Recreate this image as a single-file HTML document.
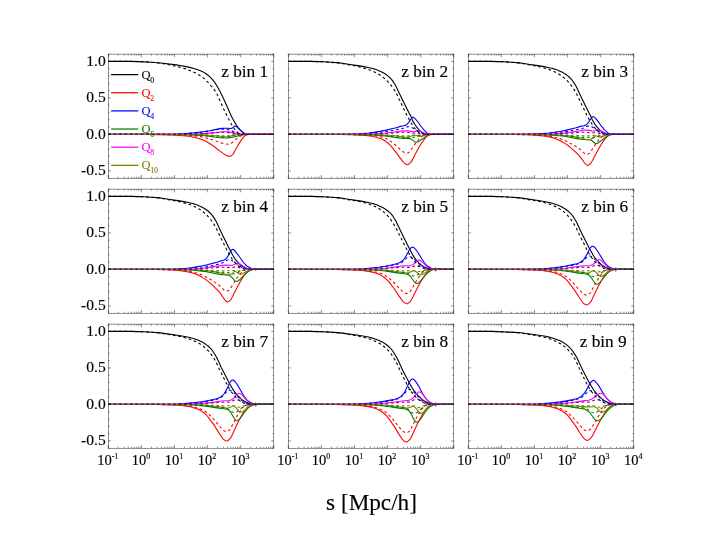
<!DOCTYPE html>
<html><head><meta charset="utf-8"><title>Q multipoles</title>
<style>html,body{margin:0;padding:0;background:#fff;}svg{display:block;will-change:transform;}</style></head>
<body>
<svg width="720" height="540" viewBox="0 0 720 540">
<rect width="720" height="540" fill="#fff"/>
<g font-family="'Liberation Serif', serif"><path d="M111.1 74.60H138.3" stroke="#000" stroke-width="1.25" fill="none"/><text x="141.4" y="78.50" font-size="12.5" fill="#000" stroke="#000" stroke-width="0.1">Q<tspan font-size="7.9" dy="4.1" dx="-0.3">0</tspan></text><path d="M111.1 92.75H138.3" stroke="#ff0000" stroke-width="1.25" fill="none"/><text x="141.4" y="96.65" font-size="12.5" fill="#ff0000" stroke="#ff0000" stroke-width="0.1">Q<tspan font-size="7.9" dy="4.1" dx="-0.3">2</tspan></text><path d="M111.1 110.90H138.3" stroke="#0000ff" stroke-width="1.25" fill="none"/><text x="141.4" y="114.80" font-size="12.5" fill="#0000ff" stroke="#0000ff" stroke-width="0.1">Q<tspan font-size="7.9" dy="4.1" dx="-0.3">4</tspan></text><path d="M111.1 129.05H138.3" stroke="#008000" stroke-width="1.25" fill="none"/><text x="141.4" y="132.95" font-size="12.5" fill="#008000" stroke="#008000" stroke-width="0.1">Q<tspan font-size="7.9" dy="4.1" dx="-0.3">6</tspan></text><path d="M111.1 147.20H138.3" stroke="#ff00ff" stroke-width="1.25" fill="none"/><text x="141.4" y="151.10" font-size="12.5" fill="#ff00ff" stroke="#ff00ff" stroke-width="0.1">Q<tspan font-size="7.9" dy="4.1" dx="-0.3">8</tspan></text><path d="M111.1 165.35H138.3" stroke="#808000" stroke-width="1.25" fill="none"/><text x="141.4" y="169.25" font-size="12.5" fill="#808000" stroke="#808000" stroke-width="0.1">Q<tspan font-size="7.9" dy="4.1" dx="-0.3">10</tspan></text></g>
<g fill="none" stroke-width="1.10" stroke-linejoin="round">
<path stroke="#000" d="M108.3 61.4L130.7 61.4L138.9 61.6L151.1 62.2L160.6 63L176.4 64.9L180.2 65.5L184.8 66.4L189.8 67.4L193.9 68.5L197.8 69.7L201.1 71L203.1 71.9L205.2 73.2L207.4 74.8L209.6 76.6L210.9 77.8L212.3 79.4L213.9 81.3L215.4 83.4L216.5 85.2L218 87.7L220.1 91.6L221.8 95.1L224.5 100.7L230.5 114.2L232.5 118.4L234 121.1L236 124.5L237.9 127.3L239.7 129.4L242 131.7L243.2 132.7L244.9 133.6L246.3 134.1L247.7 134.4L273.8 134.4"/>
<path stroke="#ff0000" d="M108.3 134.4L145.7 134.5L157.5 134.6L169.3 134.9L175.8 135.2L183.5 135.8L188.3 136.3L192.9 137L196.1 137.7L199.3 138.7L203 140L205.2 141L208.4 142.8L213.7 146.3L220.3 151.4L224.9 154.6L226 155.2L227 155.6L228.7 156.1L230.1 156.3L230.8 156.1L231.4 155.7L232.3 154.9L232.9 154.3L233.7 152.9L238.1 145.1L240.6 141.1L242.2 138.8L244 136.7L244.9 135.8L246 135.2L247.2 134.7L249 134.4L273.8 134.4"/>
<path stroke="#0000ff" d="M108.3 134.4L161.5 134.3L176.2 134.1L185.5 133.6L193.8 132.9L203.2 131.8L209.4 130.8L216.3 129.4L220.1 128.6L221.6 128.4L224.4 128.2L227.6 128.2L230.3 128.5L231.2 128.4L231.8 128.3L232.2 128.1L234.2 126.4L234.6 126.1L235.1 126L235.4 126.1L236 126.4L237.6 127.6L241 130.9L242.4 132L244.9 133.7L245.7 134.1L246.4 134.3L247.9 134.4L273.8 134.4"/>
<path stroke="#008000" d="M108.3 134.4L164.6 134.4L177.9 134.5L186.2 134.7L195.6 135.1L202.3 135.5L207.2 136L219.8 137.7L223.5 137.9L226.7 138L228.3 137.9L232.2 137.2L235.4 136.6L238.9 135.7L242.8 134.9L246.2 134.4L249.5 134.4"/>
<path stroke="#ff00ff" d="M108.3 134.4L170.2 134.4L189.8 134.2L196.2 134L203.5 133.6L212.3 132.9L223.4 131.8L225.9 131.7L227.7 131.8L230.5 132.1L237.4 133.5L241.5 134.1L245.6 134.4L249.5 134.4"/>
<path stroke="#808000" d="M108.3 134.4L176 134.4L194.8 134.6L204.2 134.9L208.9 135.2L214.8 135.7L225.4 136.8L227.5 137L228.5 136.8L229.8 136.5L231.1 136L232.8 135.1L233.4 135L242.6 134.4L249.5 134.4"/>
<path stroke="#ff0000" stroke-dasharray="2.7 2.7" d="M108.3 134.4L144.6 134.4L168.1 134.6L182.3 135L191.7 135.6L198 136.3L201.6 136.9L203.8 137.4L207 138.2L212.3 139.8L219 142.1L223.6 143.5L225.7 143.9L228.8 144.3L229.4 144.1L230.2 143.9L231 143.6L231.5 143.2L236.5 138.9L238.2 137.6L239.9 136.4L242.1 135.2L243.9 134.7L244.9 134.5L246.3 134.4L273.8 134.4"/>
<path stroke="#0000ff" stroke-dasharray="2.7 2.7" d="M108.3 134.4L155.4 134.4L172.1 134.2L178.3 134L188 133.4L196.3 132.7L200.6 132.2L204.6 131.7L213.4 130.3L218.4 129.4L220.4 129.2L224.8 129.1L226.9 129.4L230 130.1L231.3 130.6L234.4 131.9L237.9 133.2L239.6 133.7L243.2 134.3L244.7 134.4L273.8 134.4"/>
<path stroke="#808000" stroke-dasharray="2.7 2.7" d="M108.3 134.4L173 134.4L189.2 134.5L202.4 134.9L224.8 135.9L227.6 135.8L230.9 135.6L233.4 135.3L236.3 134.9L239 134.5L240.8 134.4L273.8 134.4"/>
<path stroke="#000" stroke-dasharray="2.7 2.7" d="M108.3 61.4L130.7 61.4L138.9 61.6L143.9 61.8L149.8 62.1L157 62.8L160.6 63.3L163.5 63.8L173.9 65.8L178.7 66.9L182.4 67.9L185.8 68.9L188.8 70.1L192.3 71.5L195.6 73.1L198.4 74.6L201.2 76.4L203.5 78.1L205.5 79.8L207.7 82L211.7 86.5L213.9 89.2L215.7 91.8L216.9 93.9L223.3 108.3L229.8 121.4L231.2 123.8L234.6 129.1L236.6 131.6L238.2 133L239 133.6L239.7 133.9L241 134.3L241.9 134.4L273.8 134.4"/>
<path stroke="#008000" stroke-dasharray="2.7 2.7" d="M108.3 134.4L162.1 134.4L183.8 134.7L193 135L199.8 135.3L204.5 135.7L217.2 137.1L220.8 137.3L224 137.4L225.7 137.2L228.6 136.8L235 135.4L237.3 135L239.8 134.7L242.7 134.5L244.7 134.4L273.8 134.4"/>
<path stroke="#800080" stroke-dasharray="2.7 2.7" d="M108.3 134.4L167.8 134.4L187.3 134.2L200.9 133.7L209.7 133.2L220.7 132.3L223.3 132.2L225.1 132.3L228 132.6L232 133.2L236.4 133.9L239.5 134.2L242.5 134.4L273.8 134.4"/>
</g>
<g fill="none" stroke-width="1.10" stroke-linejoin="round">
<path stroke="#000" d="M288.3 61.4L310.7 61.4L318.6 61.6L323.6 61.8L331.3 62.2L339.8 62.9L342.5 63.3L348.3 64.2L357.9 65.6L362.7 66.4L368.2 67.5L371.5 68.2L374.1 68.9L376.7 69.8L379.3 70.9L381.8 72L383.7 73.1L385.7 74.3L387.6 75.7L389.3 77.1L390.7 78.5L391.9 79.9L393.3 81.9L395.2 84.8L396.3 86.9L402.2 99.2L408.8 112.5L410.8 116.3L412.3 119.9L413.4 122.1L414.9 124.5L416.4 126.6L418.6 129.3L420.1 130.9L421.9 132.2L423.6 133.1L426 134L428.3 134.4L453.8 134.4"/>
<path stroke="#ff0000" d="M288.3 134.4L338.8 134.5L352.8 134.8L360.9 135.1L365.2 135.4L371.9 136.3L376.1 137.2L379.5 138.2L382.2 139.3L385.3 141L386.8 142.1L387.9 143L389.1 144.1L390.6 145.6L394.9 150.8L396.3 152.7L400 157.9L403.5 162.3L404.3 163.1L405 163.7L406.4 164.4L407.5 164.7L408.3 164.4L409.2 163.8L410.4 162.7L411.1 161.9L412.3 159.9L417.7 149.5L420.5 144.8L422.5 141.8L423.9 139.8L426 137.2L427.2 136.1L428.4 135.4L429.5 134.9L430.7 134.6L432.1 134.4L453.8 134.4"/>
<path stroke="#0000ff" d="M288.3 134.4L333.5 134.4L350.3 134.1L356.2 134L360.8 133.7L368.6 133L373.5 132.4L379.9 131.4L385.1 130.4L396.1 127.7L400.5 126.4L403.8 125.8L405.1 125.4L406.4 124.8L407.3 123.9L408.7 122.4L411.5 118.3L412.4 117.5L412.8 117.3L413.1 117.3L413.5 117.4L414.1 117.7L415.5 119.1L417.9 122L421 126.3L422.4 128L423.9 129.8L425.3 131.2L427 133.2L427.7 133.7L428.4 134.2L429 134.3L429.6 134.4L453.8 134.4"/>
<path stroke="#008000" d="M288.3 134.4L350.1 134.5L364.3 134.7L376.3 135.2L381.2 135.6L386.1 136L400.3 138.1L409.7 138.6L410.4 138.8L411.3 139.2L412.3 139.9L414.9 141.9L415.5 142.2L416.2 142.3L416.7 142.2L417.7 141.9L419.8 140.8L425.2 137L426.9 135.5L427.9 134.8L428.4 134.6L429.1 134.4L431.2 134.4"/>
<path stroke="#ff00ff" d="M288.3 134.4L350.2 134.4L369.8 134.1L376.2 133.8L383.5 133.3L392.3 132.3L403.4 130.9L405.9 130.8L407.7 130.9L412.2 131.6L413.3 131.7L414.5 131.6L417.1 130.8L418.2 130.8L419.3 131.1L420.3 131.4L424.1 133.1L426.8 134.1L428.4 134.4L431.2 134.4"/>
<path stroke="#808000" d="M288.3 134.4L356 134.4L374.8 134.6L384.2 135L388.9 135.3L394.8 135.8L405.4 137.2L407.5 137.3L408.5 137.2L409.7 136.8L411 136.3L412.5 135.4L413.3 135.1L414.3 135.1L415.3 135.3L416.4 135.5L418.7 136.3L419.9 136.4L421.9 136.1L427.4 134.5L428.8 134.4L431.2 134.4"/>
<path stroke="#ff0000" stroke-dasharray="2.7 2.7" d="M288.3 134.4L340.6 134.5L353.3 134.6L362.4 134.8L366 135L372.8 135.5L376.7 136L380.3 136.7L382.7 137.4L385.7 138.5L388.4 139.7L390.9 141.4L395 144.6L399.8 149L403.2 151.8L403.9 152.3L404.7 152.6L405.9 153L406.9 153.2L407.6 153L408.3 152.7L409.3 152L409.9 151.5L410.9 150.2L415.4 143.6L418.3 140L419.9 138.1L421.9 136.2L422.8 135.6L424 135L425.3 134.6L427.1 134.4L453.8 134.4"/>
<path stroke="#0000ff" stroke-dasharray="2.7 2.7" d="M288.3 134.4L330 134.4L342.7 134.3L355.1 134.1L366.4 133.5L372.9 133L380.3 132.2L384.8 131.6L393.3 130.3L397.9 129.4L401.7 128.8L403.4 128.3L406.7 127.1L407.8 126.8L408.9 126.7L410.2 126.9L411.5 127.4L418.2 131.3L420 132.3L422.6 133.3L424.6 134L425.8 134.2L427.5 134.4L453.8 134.4"/>
<path stroke="#808000" stroke-dasharray="2.7 2.7" d="M288.3 134.4L353 134.4L369.2 134.5L382.4 134.9L404.8 135.9L409.9 135.7L415.4 135.3L418.3 135.2L426.5 134.4L453.8 134.4"/>
<path stroke="#000" stroke-dasharray="2.7 2.7" d="M288.3 61.4L310.7 61.4L318.9 61.6L323.9 61.8L330 62.2L337.7 62.9L342.6 63.6L348.1 64.7L355.4 66L359.9 67L363.4 67.9L366.7 68.9L369.7 70L373.1 71.4L376 72.8L378.7 74.2L381.3 75.9L383.5 77.6L385.5 79.3L387.6 81.4L390.5 84.7L392.6 87.4L394.8 90.6L396.6 93.8L403.4 108.2L408.6 118.6L409.9 121L411.8 124L414.5 128L416.5 130.3L418.2 131.8L419.6 132.7L421.6 133.6L424.3 134.1L426.9 134.3L428.6 134.4L453.8 134.4"/>
<path stroke="#008000" stroke-dasharray="2.7 2.7" d="M288.3 134.4L342.1 134.4L363.8 134.7L373 135L379.8 135.3L384.5 135.7L397.2 137.1L404.2 137.4L407.9 137.1L412.2 137.3L413.5 137.2L415.6 136.7L420.9 135.2L423.6 134.6L425.3 134.5L427.4 134.4L453.8 134.4"/>
<path stroke="#800080" stroke-dasharray="2.7 2.7" d="M288.3 134.4L347.8 134.4L367.3 134.2L380.9 133.7L389.7 133.2L400.7 132.3L403.3 132.2L405.9 132.4L411.4 133L416.5 133.2L422.7 134.1L426 134.4L453.8 134.4"/>
</g>
<g fill="none" stroke-width="1.10" stroke-linejoin="round">
<path stroke="#000" d="M468.3 61.4L490.7 61.4L498.6 61.6L503.6 61.8L511.3 62.2L519.8 62.9L522.5 63.3L528.3 64.2L537.9 65.6L542.7 66.4L548.2 67.5L551.5 68.2L554.1 68.9L556.7 69.8L559.3 70.9L561.8 72L563.7 73.1L565.6 74.3L567.5 75.6L569.1 77L570.6 78.4L571.9 79.9L573.2 81.7L575.1 84.6L576.2 86.6L582.1 99L588.8 112.5L590.8 116.3L592.2 119.4L593.3 121.6L594.7 123.9L596.4 126.1L598.8 129L600.5 130.6L602.5 132L604.3 133L607 133.9L609.4 134.3L610.4 134.4L633.8 134.4"/>
<path stroke="#ff0000" d="M468.3 134.4L515.1 134.5L526.8 134.8L535.5 135.2L540.6 135.6L545.6 136.3L551.3 137.4L553.4 138L555.6 138.8L558.1 139.8L559.9 140.6L562 141.7L564.3 143.1L566.3 144.4L568.3 145.8L570.5 147.6L573 149.8L575.7 152.2L577.6 154.1L579.3 155.8L580.6 157.4L583.7 161.8L585.5 164L586 164.6L586.5 164.9L587.1 165.3L587.7 165.4L588.6 165.1L589.4 164.5L590.7 163.4L591.3 162.6L592.5 160.5L598.1 149.8L600.7 145.2L602.7 142.1L604.1 140.1L606.2 137.5L606.9 136.8L607.5 136.2L608.9 135.4L610 134.9L611.3 134.6L612.5 134.4L633.8 134.4"/>
<path stroke="#0000ff" d="M468.3 134.4L513.9 134.4L531.7 134.1L536.9 133.9L542 133.6L549.2 133L554.4 132.3L561 131.2L565.4 130.4L576.1 127.7L580.5 126.4L583.8 125.8L585.1 125.4L586.4 124.7L587.3 123.8L588.7 122.1L591.5 117.8L592.4 116.9L592.8 116.7L593.1 116.6L593.5 116.7L594.2 117.1L595 117.8L596 118.9L598.2 121.6L601.8 126.7L604.5 129.8L605.7 130.9L607.1 132.1L608.5 133.3L609.7 134.1L610.4 134.3L611.2 134.4L633.8 134.4"/>
<path stroke="#008000" d="M468.3 134.4L529.1 134.5L543.7 134.7L555 135.4L560.3 135.8L565.8 136.5L578.2 138.9L580.5 139.3L586.7 139.8L589 139.7L590 139.8L590.9 140.1L592 140.7L595.1 143.2L595.7 143.5L596.3 143.6L596.7 143.5L597.5 143.2L599.4 142.1L604.8 137.7L608.9 135L609.6 134.7L610.4 134.5L612.8 134.4"/>
<path stroke="#ff00ff" d="M468.3 134.4L530.1 134.4L549.5 134.1L556.2 133.7L563.7 133.1L572.1 132L584.6 130.1L585.9 130L587 130.1L592 130.9L593.2 131L594.4 130.9L596.8 130.1L597.9 129.9L598.8 130L600.1 130.5L605.1 133.1L606.1 133.5L607.7 133.9L608.6 134.2L609.6 134.3L612.8 134.4"/>
<path stroke="#808000" d="M468.3 134.4L537.7 134.4L546.6 134.6L556.3 134.9L565.8 135.5L570.6 136.1L576.4 137.1L583.7 138.8L587 139.6L588.1 139.8L589.1 139.9L589.6 139.8L590.1 139.6L591.2 139L592.6 138L594.2 136.3L594.9 135.9L595.4 135.9L596.2 136L599 137L600.3 137.1L601.9 136.7L605.3 135.5L608.5 134.6L610.2 134.4L612.8 134.4"/>
<path stroke="#ff0000" stroke-dasharray="2.7 2.7" d="M468.3 134.4L514.4 134.5L526.2 134.7L534.9 134.9L539.9 135.1L545 135.6L550.6 136.4L554.9 137.2L559.2 138.4L563.6 140L567.6 141.8L572.5 144.4L577.1 147.2L580 149.3L583 152.1L584.8 153.6L585.6 154L586.9 154.5L587.5 154.3L588.2 154L589.3 153.2L589.9 152.7L590.9 151.4L595.6 144.1L598.4 140.4L600.1 138.4L602.1 136.4L603 135.7L604.2 135.1L605.6 134.7L607.4 134.4L633.8 134.4"/>
<path stroke="#0000ff" stroke-dasharray="2.7 2.7" d="M468.3 134.4L510.2 134.4L523.9 134.3L535.6 134.1L547.5 133.4L553.8 132.9L560.8 132.2L565.3 131.6L573.9 130.2L581.7 128.7L583.5 128.1L585.9 126.9L587 126.4L588.1 126.1L589.2 126L590.3 126.2L591.8 126.8L598.6 131.2L601.3 132.5L603.6 133.4L606.9 134.2L608 134.3L609.2 134.4L633.8 134.4"/>
<path stroke="#808000" stroke-dasharray="2.7 2.7" d="M468.3 134.4L533 134.4L549.2 134.5L562.4 134.9L584.8 135.9L589.9 135.7L595.2 135.3L598.5 135.3L606 134.5L607.7 134.4L633.8 134.4"/>
<path stroke="#000" stroke-dasharray="2.7 2.7" d="M468.3 61.4L490.7 61.4L498.9 61.6L503.8 61.8L510 62.2L518 62.9L522.3 63.5L528.1 64.7L535.9 66L540.5 67L544 67.9L547.2 68.9L550.1 69.9L553.5 71.3L556.2 72.6L558.8 74L561.3 75.7L563.4 77.2L565.4 79L567.6 81.2L569.9 83.9L571.9 86.4L574.3 89.9L576.5 93.7L583.5 108.3L588.2 117.7L590 121L592 124L594.4 127.3L596.5 129.7L598.3 131.3L599.8 132.3L601.8 133.2L604.7 134L607.4 134.3L608.6 134.4L633.8 134.4"/>
<path stroke="#008000" stroke-dasharray="2.7 2.7" d="M468.3 134.4L522.7 134.4L538.6 134.6L545.1 134.7L553.4 135L559.8 135.3L564.5 135.7L577.5 137.1L584.2 137.4L587.9 137.3L589.4 137.4L592.1 137.9L593 137.9L594 137.8L595.5 137.4L600 135.7L602 135.1L603.8 134.7L605.8 134.5L608.8 134.4L633.8 134.4"/>
<path stroke="#800080" stroke-dasharray="2.7 2.7" d="M468.3 134.4L527.8 134.4L547.3 134.2L560.9 133.7L569.7 133.2L580.7 132.3L583.3 132.2L585.4 132.3L591.1 132.8L595.1 132.7L596.5 132.8L598.4 133.1L603.3 134L607.2 134.4L633.8 134.4"/>
</g>
<g fill="none" stroke-width="1.10" stroke-linejoin="round">
<path stroke="#000" d="M108.3 196.4L130.7 196.4L138.6 196.6L143.6 196.8L151.3 197.2L159.8 197.9L162.5 198.3L168.3 199.2L177.9 200.6L182.7 201.4L188.2 202.5L191.5 203.2L194.1 203.9L196.7 204.8L199.3 205.9L201.6 207L203.6 208L205.6 209.3L207.4 210.5L209.1 212L210.6 213.4L211.8 214.8L213 216.4L215.1 219.6L216.2 221.6L222.5 234.9L229 247.9L233.2 256L234.6 258.3L236.4 260.6L239 263.5L240.9 265.3L241.8 266L243 266.8L245.2 268L248 268.8L250.6 269.3L252 269.4L273.8 269.4"/>
<path stroke="#ff0000" d="M108.3 269.4L155 269.5L166.8 269.8L175.6 270.2L180.5 270.6L185.6 271.4L189.4 272.2L191.2 272.6L193.3 273.2L195.6 274.1L198 275.1L199.8 275.9L201.9 277.1L204.3 278.6L206.2 279.9L208.2 281.4L210.4 283.3L213 285.7L215.5 288.1L217.5 290.1L220.4 293.4L223.6 298.2L225.4 300.5L226.2 301.3L226.9 301.7L227.5 301.9L228.3 301.5L229.3 300.9L230.5 299.8L231.3 298.8L232.4 296.8L238.1 285.6L240.8 280.7L242.8 277.5L244.3 275.3L246.4 272.6L247.1 271.9L247.8 271.3L249.1 270.5L250.2 270L251.4 269.6L252.8 269.4L273.8 269.4"/>
<path stroke="#0000ff" d="M108.3 269.4L154.5 269.4L164.1 269.2L174.6 269L179.8 268.7L186.3 268.2L191.3 267.7L196.3 266.9L202.6 265.8L207.2 264.8L216.3 262.4L220.3 261.1L223.2 260.3L224.2 260L225.4 259.2L226.5 258.1L227.7 256.4L230.1 252.2L231 250.8L232 249.7L232.4 249.4L232.9 249.4L233.3 249.5L234.1 250L234.9 250.8L235.7 251.8L238.1 254.8L242 260.5L243.9 262.9L245.3 264.5L246.3 265.5L247.2 266.2L249.6 267.5L251.7 268.9L252.7 269.3L253.8 269.4L273.8 269.4"/>
<path stroke="#008000" d="M108.3 269.4L161.6 269.4L171.2 269.5L185.2 269.8L191.9 270.2L197.8 270.6L202.2 271.1L206.3 271.7L219.8 274.4L226 275L228.2 275.3L229.1 275.5L230.2 276L231.2 276.7L232.1 277.6L234.1 280L235 280.9L235.7 281.4L236.4 281.5L236.9 281.4L237.8 281L239.6 279.7L240.9 278.5L244.9 274.3L246.8 272.7L248.4 271.6L251.1 270.1L252 269.7L253.1 269.4L254.5 269.4L255.7 268.7L256.9 269.4L273.8 269.4"/>
<path stroke="#ff00ff" d="M108.3 269.4L170.9 269.4L183.5 269.2L191.6 269L198.4 268.6L204.2 268L212.2 266.9L224.5 265.1L226.5 265L230 265.4L232 265.3L232.9 265.1L233.6 264.8L236.4 263.4L237.1 263.2L237.6 263.1L238.6 263.3L239.9 263.9L241.1 264.6L245.1 267.4L246.3 268.1L247.5 268.5L249 268.9L251 269.3L252.4 269.4L254.5 269.4L255.7 270.2L256.8 269.4L256.9 269.4"/>
<path stroke="#808000" d="M108.3 269.4L177.7 269.4L186.6 269.6L196.3 269.9L205.8 270.5L210.6 271.1L216.4 272.1L223.7 273.8L227 274.6L228.1 274.8L229.1 274.9L230 274.7L231 274.2L232.6 273.1L234.1 271.7L234.7 271.3L235.3 271.4L236.1 271.7L238.5 273.5L239.3 273.9L240 274.2L240.7 274.2L241.6 274L242.5 273.7L247.3 271L248.6 270.4L250.5 269.8L251.5 269.6L252.6 269.4L256.9 269.4"/>
<path stroke="#ff0000" stroke-dasharray="2.7 2.7" d="M108.3 269.4L154.1 269.5L166 269.7L174.8 270L179.6 270.2L184.8 270.8L190.3 271.6L194.6 272.5L198.8 273.8L203.2 275.5L205.2 276.4L207.2 277.5L211.9 280.3L216.5 283.3L219.5 285.6L222.6 288.7L224.4 290.3L225.3 290.9L226 291.2L226.6 291.3L227.2 291.1L228 290.7L229.1 289.9L229.7 289.3L230.7 288L235.5 280.2L238.3 276.4L240.3 273.9L242.4 271.7L243.3 270.9L244.6 270.2L246.1 269.7L248.1 269.4L273.8 269.4"/>
<path stroke="#0000ff" stroke-dasharray="2.7 2.7" d="M108.3 269.4L151 269.4L167.3 269.2L177.7 269L185.6 268.6L190.1 268.3L196.3 267.7L202.1 267L213.3 265.3L215.8 264.8L220.1 263.8L221.5 263.3L223.3 262.5L225.8 260.9L227 260.2L228.2 259.7L229.4 259.6L230.1 259.6L230.7 259.8L232.2 260.6L235.2 262.7L238.7 265.4L241 266.9L243.1 267.9L245 268.5L249.1 269.2L251.1 269.4L273.8 269.4"/>
<path stroke="#808000" stroke-dasharray="2.7 2.7" d="M108.3 269.4L173 269.4L189.2 269.5L202.4 269.9L224.8 270.9L233.2 270.6L235.1 270.6L237.5 270.9L238.7 270.9L240.8 270.6L245.8 269.7L249.4 269.4L273.8 269.4"/>
<path stroke="#000" stroke-dasharray="2.7 2.7" d="M108.3 196.4L130.7 196.4L138.9 196.6L143.9 196.8L150.2 197.2L158.3 197.9L162 198.4L168.2 199.7L176.3 201L180.9 202L184.4 202.9L187.5 203.8L190.4 204.8L193.8 206.2L196.3 207.4L198.9 208.9L201.3 210.4L203.4 212L205.4 213.8L207.6 216L209.5 218.2L211.4 220.5L213.8 224.1L216.3 228.4L219.8 235.8L226 248.2L228.6 253.1L230 255.7L231.9 258.5L234.2 261.6L236.4 264L238.3 265.7L240.1 267L242.1 268L244.9 268.9L247.7 269.3L248.6 269.4L273.8 269.4"/>
<path stroke="#008000" stroke-dasharray="2.7 2.7" d="M108.3 269.4L166 269.4L180.7 269.6L191.2 269.9L196.9 270.2L203.1 270.6L217.8 272.1L227 272.5L228.7 272.9L232 273.8L233.2 274L234.4 273.8L236.1 273.3L240.5 271.2L242.6 270.4L244.2 269.9L246 269.7L248.4 269.5L250.6 269.4L273.8 269.4"/>
<path stroke="#800080" stroke-dasharray="2.7 2.7" d="M108.3 269.4L167.7 269.4L187.2 269.2L193.8 269.1L201.1 268.7L221.8 267.2L224.3 267.2L229.4 267.6L230.8 267.7L231.9 267.6L234.7 267.1L236 267L237.1 267.1L238.4 267.4L243.9 268.8L245.8 269.1L248 269.3L251.2 269.4L273.8 269.4"/>
</g>
<g fill="none" stroke-width="1.10" stroke-linejoin="round">
<path stroke="#000" d="M288.3 196.4L310.7 196.4L318.6 196.6L323.6 196.8L331.3 197.2L339.8 197.9L342.5 198.3L348.3 199.2L357.9 200.6L362.7 201.4L368.2 202.5L371.5 203.2L374.1 203.9L376.7 204.8L379.3 205.9L381.6 207L383.6 208L385.5 209.2L387.3 210.5L388.9 211.8L390.5 213.2L391.7 214.6L392.9 216.2L395 219.5L396.1 221.4L402.7 235.3L409.2 248.3L413 255.4L414.4 257.6L416.3 260L418.7 262.7L421.1 265L422.1 265.8L423.1 266.4L424.5 267.2L425.7 267.8L428.3 268.6L430.7 269.2L433.2 269.4L453.8 269.4"/>
<path stroke="#ff0000" d="M288.3 269.4L335.6 269.5L343.8 269.6L352.2 269.9L358.8 270.2L363.9 270.7L370.1 271.6L372.4 272.1L374.6 272.7L377.9 273.8L380.6 275.1L382.3 276.1L384 277.2L385.4 278.3L386.5 279.3L387.8 280.6L389.3 282.3L393.7 288L395.2 290.2L399.1 296.1L402.7 301.1L403.6 302.1L404.4 302.6L405.8 303.4L406.9 303.8L407.8 303.4L408.8 302.8L410.1 301.6L410.9 300.6L412.1 298.5L418.1 286.5L420.9 281.4L423 278L424.6 275.8L426.9 272.8L428.2 271.5L429.6 270.6L430.9 270L432.2 269.6L433.6 269.4L453.8 269.4"/>
<path stroke="#0000ff" d="M288.3 269.4L335.1 269.4L356.2 269L362.9 268.7L371.4 268L378.4 267.2L385.1 266.2L391.2 265L396.5 263.8L397.9 263.3L399.2 262.8L400.3 262.2L401.4 261.5L402.4 260.8L403.2 260.1L404 259.1L404.8 258L406.2 255.7L408.9 250.7L410.2 248.7L410.9 248L411.4 247.5L412 247.2L412.5 247.1L413.2 247.3L414.1 247.9L415 248.7L416.1 250L418.2 253L422.4 259.8L424.2 262.5L425.7 264.3L426.8 265.4L427.9 266.2L432 268.7L433.2 269.2L434.4 269.4L453.8 269.4"/>
<path stroke="#008000" d="M288.3 269.4L343.1 269.4L361.2 269.6L367.5 269.8L375.2 270.2L380 270.5L385.2 271L388 271.4L399 273.1L404.9 273.8L406.2 274L407.7 274.5L409 275.2L410.2 276.2L411.4 277.7L413.9 281.2L414.7 282.3L415.7 283.2L416.2 283.4L416.6 283.5L417.3 283.4L418.2 283L419 282.4L419.9 281.6L421.5 279.9L425.6 274.9L426.7 273.7L427.8 272.8L429.1 271.8L432.1 269.9L433.2 269.5L434.5 269.4L435.6 268L435.7 268L436.8 269.4L436.9 269.4L453.8 269.4"/>
<path stroke="#ff00ff" d="M288.3 269.4L357 269.3L370.4 269.1L381.3 268.5L385.1 268.2L391.6 267.4L403.9 265.8L406 265.7L409.1 265.8L410.5 265.6L411.9 265.1L413 264.5L414.1 263.6L416.2 261.5L417.1 260.8L417.9 260.2L418.8 260.1L419.4 260.1L420 260.3L421.4 261.2L422.7 262.4L426.3 266.2L427.7 267.2L429 268L430.9 268.8L431.8 269.1L433.1 269.3L434.5 269.4L435.6 270.9L435.7 270.9L436.8 269.4L436.9 269.4"/>
<path stroke="#808000" d="M288.3 269.4L356 269.4L374.8 269.7L384.3 270.1L389 270.5L394.9 271.2L405.4 272.9L407.3 273.1L408.2 273L409.2 272.6L411 271.8L412.6 270.7L413.3 270.6L414.3 270.8L415.4 271.3L416.6 272.2L419.4 274.5L420.1 274.9L420.9 275L421.9 274.8L423 274.3L424.1 273.6L427.3 271.3L428.4 270.7L429.5 270.2L431.2 269.7L432.4 269.5L436.9 269.4"/>
<path stroke="#ff0000" stroke-dasharray="2.7 2.7" d="M288.3 269.4L335.6 269.5L352.1 269.8L358.8 270L363.8 270.3L370.1 271L374.6 271.7L378 272.5L380.8 273.4L384.1 274.9L385.5 275.7L386.6 276.4L389.4 278.5L393.8 282.5L399.1 288.1L402.8 291.7L403.6 292.3L404.4 292.7L405.8 293.3L406.9 293.6L407.6 293.4L408.5 292.9L409.6 292.1L410.2 291.3L411.2 289.9L416.2 281.3L418.9 277.2L421 274.4L423 272.1L424.1 271.1L425.2 270.4L426.1 270L427 269.7L429.1 269.4L453.8 269.4"/>
<path stroke="#0000ff" stroke-dasharray="2.7 2.7" d="M288.3 269.4L332.2 269.4L352.5 269.2L358.4 269L366.3 268.5L371.3 268.2L376.8 267.6L383.4 266.8L393.2 265.3L395.5 264.8L398.1 264L400.1 263.3L401.5 262.5L403.2 261.3L405.9 258.7L407.1 257.7L408.5 256.9L409.1 256.8L409.7 256.7L410.3 256.8L411.1 257.1L412 257.6L412.9 258.2L415.3 260.3L419.3 264.1L422.1 266.3L424.1 267.5L426.3 268.3L430.1 269.2L432 269.4L453.8 269.4"/>
<path stroke="#808000" stroke-dasharray="2.7 2.7" d="M288.3 269.4L353.3 269.4L371.1 269.6L382.7 269.9L403.9 270.9L406.2 270.9L412.9 270.6L414.7 270.8L417.4 271.5L418.6 271.6L419.6 271.5L420.8 271.3L425.9 269.9L427.3 269.6L429.2 269.5L431.8 269.4L453.8 269.4"/>
<path stroke="#000" stroke-dasharray="2.7 2.7" d="M288.3 196.4L310.7 196.4L318.8 196.6L323.7 196.8L330.1 197.2L338.4 197.9L341.7 198.3L347.9 199.6L356 200.9L361.2 201.9L364.8 202.8L367.9 203.7L370.6 204.7L374 206.1L376.5 207.2L378.8 208.5L381.2 210.1L383.3 211.7L385.3 213.4L387.4 215.5L389.1 217.6L391 219.9L393.3 223.4L396.2 228.3L399.8 235.8L406.6 249.1L410 255.4L411.9 258.2L414 260.9L416.2 263.2L418.4 265.2L420.9 266.9L423.1 268.1L425.2 268.9L427.8 269.3L428.6 269.4L453.8 269.4"/>
<path stroke="#008000" stroke-dasharray="2.7 2.7" d="M288.3 269.4L349.4 269.5L363 269.6L375.6 270.1L383.6 270.6L396.1 272L402.5 272.4L405.6 272.8L406.7 273L407.7 273.3L409 273.9L412.2 275.6L413.1 275.9L414 276L414.6 276L415.4 275.8L417.1 275.1L418.3 274.4L421.9 271.9L423.8 270.9L425.6 270.3L427.5 269.8L429.7 269.5L431.7 269.4L453.8 269.4"/>
<path stroke="#800080" stroke-dasharray="2.7 2.7" d="M288.3 269.4L348.8 269.4L369.8 269.2L381.8 268.7L401.8 267.2L403.7 267.2L407.2 267.4L409.8 267.4L411.5 267.1L414.9 266.1L416.2 266L417.4 266.1L418.7 266.4L423 268.1L424.7 268.6L426.7 269L429 269.3L432 269.4L453.8 269.4"/>
</g>
<g fill="none" stroke-width="1.10" stroke-linejoin="round">
<path stroke="#000" d="M468.3 196.4L490.7 196.4L498.6 196.6L503.5 196.8L512.1 197.3L520.2 197.9L538.3 200.5L542.7 201.2L546.6 202L550.5 202.8L553.7 203.7L556.7 204.7L559.4 205.8L561.6 206.8L563.5 207.9L565.3 209L567 210.3L568.7 211.6L570.4 213.2L571.6 214.5L572.8 216.1L575 219.5L576.2 221.6L578.6 226.6L581.3 232.4L582.6 235.1L589.2 248.1L592.8 254.6L594.3 257L596.3 259.5L598.6 262L601.1 264.5L602.2 265.3L603.5 266.1L604.8 266.9L606.1 267.5L609.3 268.6L612.2 269.2L614.9 269.4L633.8 269.4"/>
<path stroke="#ff0000" d="M468.3 269.4L515.5 269.5L523.7 269.7L532.2 269.9L538.7 270.2L543.8 270.8L549.9 271.7L552.3 272.2L554.5 272.9L557.8 274L560.5 275.4L562.2 276.4L563.8 277.5L565.3 278.7L566.4 279.7L567.7 281.1L569.1 282.9L573.6 288.8L575 290.9L578.9 297L582.6 302.3L583.5 303.3L584.3 303.9L585.6 304.6L586.7 305L587.6 304.7L588.7 303.9L590 302.7L590.8 301.7L592 299.4L597.8 287.3L600.8 281.7L602.9 278.3L604.5 275.9L606.8 272.9L607.4 272.1L608.1 271.5L609.4 270.7L610.6 270.1L611.6 269.7L613.4 269.4L633.8 269.4"/>
<path stroke="#0000ff" d="M468.3 269.4L515.1 269.4L525.9 269.3L536.4 269L543.4 268.7L551.8 268L559.5 267.1L565.9 266L572.9 264.6L576.8 263.7L578.1 263.3L579.4 262.7L580.6 262L581.7 261.3L582.7 260.5L583.5 259.7L584.3 258.8L585 257.6L586.4 255.4L589 250.1L590.3 248L591 247.2L591.5 246.7L592.1 246.3L592.6 246.2L593.3 246.3L594.3 247L595.2 247.9L596.3 249.3L598.3 252.2L602.6 259.4L604.1 261.7L605.4 263.5L606.4 264.6L607.3 265.5L608.5 266.4L609.7 267.2L613.2 268.9L614.1 269.2L614.9 269.4L633.8 269.4"/>
<path stroke="#008000" d="M468.3 269.4L523.1 269.4L541.2 269.6L547.5 269.8L555.4 270.2L560.2 270.5L565.4 271L579 273.1L584.8 273.8L586.2 274.1L587.7 274.6L589 275.3L590.2 276.4L591.4 278L593.9 281.7L594.7 283L595.3 283.6L595.7 283.9L596.2 284.1L596.6 284.2L597.3 284.1L598.2 283.7L599 283.1L599.9 282.3L601.5 280.5L605.7 275.1L606.8 273.9L607.9 272.9L609.6 271.6L612.2 270.2L613.3 269.7L614.5 269.5L615.6 268L615.7 268L616.8 269.4L616.9 269.4L633.8 269.4"/>
<path stroke="#ff00ff" d="M468.3 269.4L537.1 269.3L550.5 269.1L561.5 268.5L565.2 268.2L571.7 267.4L583.9 265.8L585.9 265.7L588.9 265.7L590.2 265.5L591.5 265.1L592.8 264.5L594 263.5L596.2 261.3L597.2 260.4L598.2 259.8L599 259.6L599.6 259.7L600.3 260L601.6 260.8L602.9 262.1L606.4 265.9L607.8 267.1L609.1 267.9L610.3 268.5L612.1 269L613.2 269.3L614.5 269.4L615.6 270.9L615.7 270.9L616.8 269.4L616.9 269.4"/>
<path stroke="#808000" d="M468.3 269.4L536 269.4L554.8 269.7L564.3 270.1L569 270.5L574.9 271.2L585.4 272.9L587.3 273.1L588.1 273L589.1 272.7L591 271.8L592.5 270.9L593 270.7L593.3 270.7L594.3 271L595.4 271.7L596.6 272.8L599.3 275.7L600.1 276.3L600.9 276.5L601.5 276.4L602.1 276.2L603.3 275.6L604.6 274.7L608 271.8L609.1 271.1L610.2 270.5L612 269.9L613.2 269.6L614.5 269.4L616.9 269.4"/>
<path stroke="#ff0000" stroke-dasharray="2.7 2.7" d="M468.3 269.4L515.6 269.5L532.2 269.8L538.8 270L543.9 270.4L550.1 271.1L554.6 271.9L557.9 272.7L560.6 273.7L564 275.3L565.4 276.1L566.5 276.8L567.8 277.9L569.3 279.1L573.7 283.4L575.2 285.1L579.1 289.6L582.7 293.3L583.6 294L584.4 294.5L585.8 295.1L586.9 295.3L587.7 295L588.5 294.5L589.6 293.6L590.1 293L591.2 291.2L596.2 282.1L598.9 277.6L601 274.7L603 272.3L604.1 271.2L605.2 270.5L606.1 270L606.9 269.8L609 269.4L633.8 269.4"/>
<path stroke="#0000ff" stroke-dasharray="2.7 2.7" d="M468.3 269.4L512.4 269.4L533 269.1L539.1 268.9L547.3 268.5L552.9 268L559.3 267.4L564.7 266.6L573.4 265.2L576.1 264.6L578.6 263.8L580.5 263L582.2 261.9L583.6 260.6L586.2 257.9L587.5 256.8L588.7 256.2L589.2 256L589.8 256L590.4 256.1L591.2 256.4L592.1 257L593 257.6L595.3 259.7L599.3 263.7L602.1 266.1L603.1 266.8L604.1 267.3L606.4 268.2L607.9 268.6L610.6 269.1L612.7 269.4L633.8 269.4"/>
<path stroke="#808000" stroke-dasharray="2.7 2.7" d="M468.3 269.4L533.5 269.4L552.2 269.6L562.9 269.9L583.8 270.9L586 270.9L592.8 270.7L594.7 270.9L597.4 271.7L598.6 271.9L599.6 271.8L600.8 271.5L604.5 270.3L605.9 269.9L607.2 269.7L608.8 269.5L612.2 269.4L633.8 269.4"/>
<path stroke="#000" stroke-dasharray="2.7 2.7" d="M468.3 196.4L490.7 196.4L498.8 196.6L503.7 196.8L510.4 197.2L518.8 197.9L521.6 198.3L528.2 199.6L536 200.8L541.3 201.9L544.9 202.7L548 203.6L551.4 204.9L554.1 206L556.6 207.1L559 208.5L561.4 210L563.4 211.5L565.4 213.2L567.5 215.3L569.4 217.5L571.1 219.7L573.4 223.1L576.1 227.7L579.7 235.2L586 247.9L588.2 252.1L589.8 254.8L591.8 257.8L593.9 260.4L596.3 263L598.5 265L601 266.7L603.2 267.9L605.2 268.6L608.1 269.3L610.4 269.4L633.8 269.4"/>
<path stroke="#008000" stroke-dasharray="2.7 2.7" d="M468.3 269.4L531.1 269.5L544.2 269.7L557.1 270.2L564 270.7L576.3 272L582.7 272.5L585.4 272.9L586.6 273.1L587.7 273.5L589 274.2L592.2 276.2L593.2 276.6L594.1 276.7L594.7 276.7L595.5 276.5L597.1 275.8L598.4 274.9L602 272.2L603.9 271.1L605.7 270.3L607.7 269.8L610.2 269.5L612.3 269.4L633.8 269.4"/>
<path stroke="#800080" stroke-dasharray="2.7 2.7" d="M468.3 269.4L530 269.4L545.5 269.3L552 269.1L562.4 268.7L581.7 267.2L583.8 267.2L587.3 267.4L589.3 267.3L591.1 267L594.6 265.6L595.5 265.3L596.3 265.2L597.5 265.4L598.8 265.8L603.1 267.8L604.7 268.4L606.4 268.9L608.3 269.2L610.4 269.3L612.4 269.4L633.8 269.4"/>
</g>
<g fill="none" stroke-width="1.10" stroke-linejoin="round">
<path stroke="#000" d="M108.3 331.4L130.7 331.4L138.5 331.6L143.4 331.8L153 332.3L160.4 332.9L179.1 335.5L186 336.7L189.7 337.5L193.4 338.5L196.6 339.5L199.4 340.7L201.5 341.7L203.3 342.6L205.1 343.8L206.8 345.1L208.6 346.5L210.2 348.1L211.5 349.4L212.7 351L215.1 354.7L216.5 357.2L218.6 361.4L221.3 367.4L222.6 370.1L229.2 382.9L232.4 388.6L234.1 391.2L236.2 393.9L238.6 396.5L241.3 399.1L242.4 399.9L243.7 400.8L245 401.6L246.3 402.2L249.6 403.5L252.7 404.2L254.9 404.4L273.8 404.4"/>
<path stroke="#ff0000" d="M108.3 404.4L155.5 404.5L163.7 404.7L172.2 404.9L178.7 405.3L183.8 405.8L189.9 406.8L192.3 407.3L194.5 408L197.8 409.1L200.5 410.5L202.2 411.6L203.8 412.8L205.3 413.9L206.4 415L207.7 416.5L209.1 418.3L213.6 424.4L215 426.6L218.9 432.9L222.6 438.3L223.5 439.3L224.3 439.9L225.6 440.7L226.7 441.1L227.6 440.8L228.7 440L230 438.7L230.8 437.6L232 435.3L237.8 422.8L240.8 417.1L242.9 413.5L244.5 411.1L246.8 408L247.4 407.2L248.1 406.6L249.4 405.7L250.6 405.1L251.6 404.8L253.4 404.4L273.8 404.4"/>
<path stroke="#0000ff" d="M108.3 404.4L155.3 404.4L166.4 404.2L176.7 404L184.3 403.6L192.6 402.9L201.8 401.7L207.3 400.8L214.4 399.3L217.1 398.6L218.4 398.1L219.7 397.5L220.8 396.8L221.9 396L222.7 395.4L223.5 394.5L224.3 393.5L225 392.3L226.4 389.9L229 384.3L230.3 382L231 381.1L231.5 380.5L232.2 380.1L232.8 380L233.1 380.1L233.5 380.3L234.4 381L235.4 382L236.5 383.5L238.4 386.4L242.6 393.8L244.1 396.3L245.4 398.1L246.4 399.3L247.3 400.2L248.5 401.2L249.7 402L253.6 403.9L254.5 404.2L255.4 404.4L273.8 404.4"/>
<path stroke="#008000" d="M108.3 404.4L163.1 404.4L181.5 404.6L187.9 404.8L195.7 405.2L200.9 405.6L206.1 406.1L218.9 408.1L224.7 408.8L226.1 409.1L227.6 409.6L228.9 410.4L230.1 411.6L231.4 413.5L233.9 417.8L234.7 419.2L235.3 419.9L235.7 420.3L236.3 420.6L236.7 420.7L237.4 420.5L238.3 420L239.2 419.4L240 418.5L241.6 416.5L245.7 410.7L246.9 409.3L248 408.1L249.3 407L250.6 406.2L253.2 405L254.5 404.5L255.6 403L255.7 403L256.8 404.4L256.9 404.4L273.8 404.4"/>
<path stroke="#ff00ff" d="M108.3 404.4L177.9 404.3L190.9 404.1L196.1 403.8L202.4 403.4L212 402.4L223.9 400.8L225.8 400.7L228.6 400.6L230 400.4L231.4 399.8L232.6 399.1L234 397.9L236.2 395.3L237.2 394.3L238.2 393.6L238.7 393.4L239.2 393.4L239.8 393.5L240.5 393.7L241.1 394.1L241.8 394.7L243.2 396.2L245.7 399.1L246.8 400.4L248.2 401.7L249.5 402.7L250.7 403.3L252.2 403.8L253.4 404.2L254.5 404.3L255.6 405.9L255.7 405.9L256.8 404.4L256.9 404.4"/>
<path stroke="#808000" d="M108.3 404.4L176 404.4L194.8 404.7L204.3 405.1L209 405.5L214.9 406.2L225.4 407.9L227.3 408.1L228.1 408L229 407.7L231 406.9L232.5 406L233.2 405.9L234.2 406.2L235.2 406.9L236.4 408.1L238.4 410.5L239.3 411.5L240.1 412.1L240.9 412.3L241.5 412.2L242.1 412L243.3 411.3L244.6 410.3L248 407.1L249.1 406.3L250.2 405.7L251.4 405.1L253.4 404.6L254.8 404.4L256.9 404.4"/>
<path stroke="#ff0000" stroke-dasharray="2.7 2.7" d="M108.3 404.4L155.5 404.5L163.7 404.6L172.2 404.8L178.8 405L183.9 405.4L190.1 406.2L194.6 407L197.9 407.9L200.6 409L204 410.6L205.4 411.5L206.5 412.3L207.8 413.4L209.3 414.7L213.7 419.2L215.1 420.9L219 425.5L222.7 429.6L223.6 430.4L224.5 430.9L225.8 431.4L226.9 431.7L227.7 431.4L228.5 430.9L229.6 429.9L230.1 429.2L231.2 427.3L236.1 417.9L238.8 413.2L240.9 410L242.9 407.5L244 406.3L245.2 405.5L246.1 405L246.9 404.8L248.1 404.5L249 404.4L273.8 404.4"/>
<path stroke="#0000ff" stroke-dasharray="2.7 2.7" d="M108.3 404.4L152.4 404.4L173.1 404.1L179.2 403.9L187.5 403.4L193.3 403L199.9 402.3L205.3 401.6L213.4 400.2L215.9 399.6L218.2 398.8L220.3 397.9L221.9 396.7L223.4 395.3L226.1 392.3L227.5 391.1L228.7 390.5L229.2 390.3L229.8 390.2L230.4 390.4L231.2 390.7L232.1 391.2L233.1 392L235.4 394.2L239.4 398.4L242.2 400.9L243.2 401.6L244.2 402.2L246.5 403.1L249.1 403.8L251.6 404.2L253.2 404.4L273.8 404.4"/>
<path stroke="#808000" stroke-dasharray="2.7 2.7" d="M108.3 404.4L173.8 404.4L194 404.6L203.1 404.9L223.8 405.9L232.5 405.7L234.5 406L237.5 407.1L238.7 407.3L239.7 407.2L240.9 406.9L244.5 405.5L245.9 405L247.3 404.7L248.9 404.5L252.5 404.4L273.8 404.4"/>
<path stroke="#000" stroke-dasharray="2.7 2.7" d="M108.3 331.4L130.7 331.4L138.8 331.6L143.7 331.8L150.8 332.2L159.3 332.9L161.8 333.3L168.2 334.5L176 335.7L181.6 336.8L185.1 337.7L188.2 338.6L191.5 339.8L194.4 340.9L196.8 342.1L199.2 343.4L201.6 345L203.5 346.3L205.5 348.1L207.6 350.1L209.6 352.3L211.2 354.4L213.6 357.8L216 362L219.7 369.9L225.5 381.6L227.7 385.8L229.6 389.2L231.4 392L233.6 394.8L236.2 397.6L238.5 399.7L241.1 401.6L243.5 402.8L244.8 403.3L246.1 403.7L247.8 404.1L249 404.3L250.3 404.4L273.8 404.4"/>
<path stroke="#008000" stroke-dasharray="2.7 2.7" d="M108.3 404.4L159.7 404.4L173.7 404.5L186.7 404.7L193.6 405L199.1 405.3L204.4 405.7L216.6 407L222.3 407.4L225.1 407.9L226.5 408.2L227.6 408.7L228.9 409.5L232.3 412L233.3 412.5L234.2 412.6L234.9 412.5L235.6 412.3L237.2 411.5L238.5 410.5L242 407.6L243.9 406.3L245.7 405.5L247.7 404.9L250.2 404.6L252.7 404.4L273.8 404.4"/>
<path stroke="#800080" stroke-dasharray="2.7 2.7" d="M108.3 404.4L172.2 404.4L186.5 404.2L195.2 404L203.6 403.6L221.5 402.3L223.5 402.2L226.7 402.3L228.3 402.2L229.4 402L230.5 401.7L231.7 401.3L234.5 399.9L235.4 399.6L236.3 399.5L237.5 399.7L238.8 400.1L240.1 400.8L243.1 402.5L244.8 403.2L246.5 403.8L248.4 404.1L250.6 404.3L252.7 404.4L273.8 404.4"/>
</g>
<g fill="none" stroke-width="1.10" stroke-linejoin="round">
<path stroke="#000" d="M288.3 331.4L310.6 331.4L318.4 331.6L323.2 331.8L333.6 332.4L340.6 332.9L359.9 335.5L365.8 336.5L369.5 337.3L373.3 338.4L376.6 339.5L379.5 340.7L381.6 341.7L383.3 342.6L385.1 343.7L386.8 345L388.6 346.5L390.2 348.1L391.5 349.4L392.7 351L395.1 354.7L396.6 357.4L398.7 361.6L401.2 367.1L402.5 369.9L409.2 382.7L412.1 387.8L414 390.7L416.1 393.4L418.4 396L421.3 398.7L422.4 399.6L423.7 400.5L425.1 401.4L426.5 402.1L428.4 402.9L429.9 403.4L433.2 404.2L434.9 404.4L453.8 404.4"/>
<path stroke="#ff0000" d="M288.3 404.4L335.2 404.5L343.5 404.7L352 405L358.5 405.3L363.5 405.9L369.6 406.9L371.9 407.4L374.1 408.1L377.4 409.3L378.8 409.9L380.2 410.7L381.9 411.8L383.5 413L385 414.2L386.1 415.3L387.4 416.8L388.8 418.6L393.2 424.9L394.7 427.1L398.5 433.6L402.3 439.2L403.2 440.2L403.9 440.9L405.3 441.7L406.4 442.1L407.2 441.7L408.3 440.9L409.8 439.5L410.5 438.5L411.8 436.1L417.7 423.3L420.7 417.6L422.8 413.9L424.5 411.3L426.8 408.1L427.5 407.2L428.2 406.6L429.6 405.7L430.9 405.1L432.2 404.7L433.6 404.4L453.8 404.4"/>
<path stroke="#0000ff" d="M288.3 404.4L335.5 404.4L347.1 404.2L357.1 404L366 403.5L373.7 402.8L382.6 401.6L389 400.4L394.8 399.2L397.2 398.5L398.4 398L399.6 397.3L400.7 396.6L401.7 395.7L403.3 394.1L404.8 391.7L406.1 389.1L408.8 383.3L410 381.1L410.7 380.2L411.3 379.5L412 379.1L412.5 378.9L412.9 379L413.3 379.2L414.2 379.8L415.2 380.9L416.3 382.4L418.3 385.6L422.6 393.5L424.1 396.1L425.4 398L426.3 399.1L427.2 400L428.4 401.1L429.6 401.9L431 402.7L433.7 403.9L434.6 404.2L435.6 404.4L453.8 404.4"/>
<path stroke="#008000" d="M288.3 404.4L343.2 404.4L361.6 404.6L368.1 404.8L376 405.2L381.6 405.7L386.8 406.2L398.7 408.1L404.4 408.7L405.9 409.1L407.3 409.7L408.7 410.6L409.9 411.9L411.2 414.1L413.6 418.9L414.6 420.6L415.2 421.4L415.6 421.8L416.2 422.1L416.6 422.2L417.4 421.9L418.2 421.5L419 420.8L419.9 419.8L421.5 417.8L425.8 411.3L427 409.7L428.1 408.5L429.4 407.3L430.7 406.4L433.4 405L434.5 404.6L435.6 403.1L435.7 403L436.8 404.4L436.9 404.4L453.8 404.4"/>
<path stroke="#ff00ff" d="M288.3 404.4L348.3 404.4L359.2 404.3L371.6 404.1L377.7 403.7L383.6 403.3L392.7 402.3L404.3 400.8L408 400.4L409.4 400.1L411 399.4L412.3 398.5L413.7 397.1L416.2 394.1L417.2 393.1L418.3 392.2L418.8 392L419.4 391.9L420 392L420.7 392.3L421.4 392.8L422 393.4L423.5 395.1L425.9 398.5L427 399.9L428.3 401.3L429.6 402.4L430.6 403L431.6 403.5L433.3 404L434.5 404.3L435.6 405.9L435.7 405.9L436.8 404.4L436.9 404.4"/>
<path stroke="#808000" d="M288.3 404.4L356 404.4L374.8 404.7L384.3 405.1L389 405.5L394.9 406.2L405.4 407.9L407.3 408.1L408 408L408.8 407.8L411 407L412.4 406.2L413.1 406.1L413.5 406.2L414.1 406.6L415.3 407.6L416.4 408.9L418.5 411.7L419.4 412.7L420.1 413.3L420.9 413.4L421.5 413.4L422.1 413.1L423.3 412.3L424.6 411.2L428 407.5L429.1 406.6L430.2 405.8L431.5 405.2L433.5 404.6L434.9 404.4L436.9 404.4"/>
<path stroke="#ff0000" stroke-dasharray="2.7 2.7" d="M288.3 404.4L335.3 404.5L343.5 404.6L352 404.8L358.5 405.1L363.5 405.5L369.7 406.3L374.2 407.2L377.6 408.1L380.3 409.2L383.6 410.9L385.1 411.8L386.2 412.6L387.5 413.8L388.9 415.2L393.3 419.9L394.8 421.7L398.6 426.6L402.4 430.8L403.3 431.6L404.2 432.1L405.5 432.7L406.6 433L407.3 432.7L408.1 432.2L409.2 431.2L409.9 430.4L411 428.4L416 418.6L418.8 413.5L420.9 410.3L423 407.6L424.1 406.4L425.2 405.6L426.1 405.1L427 404.8L428.2 404.5L429.1 404.4L453.8 404.4"/>
<path stroke="#0000ff" stroke-dasharray="2.7 2.7" d="M288.3 404.4L332.5 404.4L353.3 404.1L359.6 403.9L367.9 403.4L373.9 402.9L380.6 402.2L386.2 401.4L393.3 400.2L395.7 399.6L397.9 398.8L400.1 397.7L401.7 396.5L403.3 394.9L406 391.7L407.3 390.5L408.6 389.8L409.2 389.6L409.8 389.5L410.4 389.6L411.3 390L412.2 390.6L413.2 391.4L415.4 393.6L419.4 398L421 399.6L422.4 400.8L423.3 401.5L424.3 402.1L426.7 403.1L429.2 403.7L431.8 404.2L433.4 404.4L453.8 404.4"/>
<path stroke="#808000" stroke-dasharray="2.7 2.7" d="M288.3 404.4L354.3 404.4L375.5 404.7L383.2 404.9L403.8 405.9L412.4 405.7L413.4 405.9L414.4 406.1L415.4 406.4L417.5 407.4L418.2 407.6L418.7 407.6L419.7 407.5L420.9 407.1L424.5 405.6L425.9 405.1L427.3 404.8L428.9 404.5L432.6 404.4L453.8 404.4"/>
<path stroke="#000" stroke-dasharray="2.7 2.7" d="M288.3 331.4L310.7 331.4L318.8 331.6L323.8 331.8L331.3 332.2L339.7 332.9L342.5 333.3L348.5 334.5L355.9 335.6L361.8 336.8L365.3 337.7L368.4 338.6L371.6 339.7L374.6 340.9L377 342.1L379.3 343.3L381.6 344.8L383.5 346.2L385.5 347.8L387.6 349.9L389.7 352.1L391.2 354L393.4 357.3L395.9 361.4L399.6 369.5L404.8 380.2L406.8 384.1L409.3 388.7L411.3 391.7L413.5 394.5L416.2 397.4L418.5 399.5L421 401.3L422.1 402L423.3 402.6L424.7 403.1L426 403.6L428 404.1L429.2 404.3L430.2 404.4L453.8 404.4"/>
<path stroke="#008000" stroke-dasharray="2.7 2.7" d="M288.3 404.4L340.5 404.4L358 404.5L372 404.9L381.5 405.5L385.1 405.8L396.4 407L402.2 407.4L403.6 407.6L405.1 408L406.5 408.4L407.6 408.9L408.9 409.9L411.3 412.1L412.3 412.8L413.3 413.4L414.3 413.6L415 413.5L415.7 413.2L416.5 412.8L417.3 412.3L418.5 411.3L422 408L423.9 406.5L425.7 405.6L427.7 405L429.7 404.6L432.8 404.4L453.8 404.4"/>
<path stroke="#800080" stroke-dasharray="2.7 2.7" d="M288.3 404.4L354.6 404.4L367.7 404.2L378.6 403.9L388.9 403.2L401.4 402.3L403.4 402.2L406.6 402.2L408.2 402.1L409.3 401.9L410.4 401.6L411.7 401L414.5 399.4L415.5 399L416.4 398.9L417.6 399.1L418.9 399.6L420.3 400.4L423.2 402.3L424.9 403.1L426.5 403.7L428.4 404.1L430.6 404.3L432.9 404.4L453.8 404.4"/>
</g>
<g fill="none" stroke-width="1.10" stroke-linejoin="round">
<path stroke="#000" d="M468.3 331.4L490.6 331.4L498.4 331.6L514.4 332.4L520.7 332.8L540.6 335.5L545.6 336.3L549.2 337.1L553 338.2L556.6 339.4L559.5 340.6L561.6 341.6L563.3 342.5L565 343.6L566.7 344.9L568.5 346.4L570.2 348.1L571.5 349.5L572.7 351.1L575.2 354.9L577 358L578.7 361.5L581.2 367.1L582.4 369.6L589.1 382.4L591.7 386.8L593.7 390L596 392.9L598.4 395.6L601.3 398.4L602.5 399.4L604 400.4L605.6 401.3L607.1 402.1L610.1 403.4L613.5 404.2L615 404.4L633.8 404.4"/>
<path stroke="#ff0000" d="M468.3 404.4L516 404.5L524 404.6L532.4 404.9L539.2 405.2L544.2 405.8L550.5 406.7L552.8 407.2L555 407.9L558.3 409L561.1 410.4L562.6 411.3L564.3 412.5L565.8 413.7L566.9 414.7L568.3 416.1L569.7 417.9L574.1 423.8L575.7 426.1L579.5 432.3L583.3 437.7L584.2 438.6L584.9 439.2L586.2 440L587.3 440.4L588.2 440.1L589.3 439.4L590.9 438L591.7 437L593 434.7L599.2 422.4L602.1 417.2L604.3 413.7L606 411.2L608.4 408.1L609.2 407.3L609.9 406.7L611.3 405.7L612.6 405.1L613.6 404.8L615.6 404.4L633.8 404.4"/>
<path stroke="#0000ff" d="M468.3 404.4L515.2 404.4L526.1 404.2L536.5 404L543.8 403.6L552.3 402.9L560.6 401.9L566.6 400.9L573 399.6L576.5 398.7L577.9 398.2L579.2 397.6L580.4 396.9L581.5 396.1L583.3 394.5L584 393.6L584.9 392.4L586.4 390.1L589.3 384.6L590.8 382.4L591.5 381.5L592.2 380.9L592.9 380.5L593.4 380.4L594.2 380.6L595.2 381.4L596.3 382.5L597.6 384.1L599.3 386.6L604.1 394.7L605.3 396.5L606.4 398L607.4 399.1L608.6 400.3L609.7 401.1L611 402L614.7 403.9L615.6 404.2L616.5 404.4L633.8 404.4"/>
<path stroke="#008000" d="M468.3 404.4L523.1 404.4L541.5 404.6L547.9 404.8L555.7 405.2L560.9 405.6L566.1 406.1L582.4 408.7L584.2 409.1L585.6 409.6L586.6 410.2L587.8 411L588.7 411.7L589.6 412.5L590.8 414L594 418.4L595.2 419.7L595.7 420.2L596.3 420.6L596.8 420.8L597.3 420.8L598.1 420.7L599 420.3L599.9 419.7L600.8 418.9L602.6 417L606.4 411.9L608.3 409.8L609.6 408.5L610.9 407.5L614.5 405.1L615.5 403.4L615.7 403.2L616.8 404.4L616.9 404.4L633.8 404.4"/>
<path stroke="#ff00ff" d="M468.3 404.4L537.9 404.3L550.9 404.1L556.1 403.8L562.4 403.4L571.4 402.5L579.5 401.4L584.7 400.6L588.1 400.2L589.3 400L591.3 399.3L593.1 398.3L594.4 397.3L597.2 394.9L598.5 394L599.6 393.5L600.7 393.3L601.4 393.3L602 393.6L602.7 393.9L603.5 394.5L604.7 395.7L607.9 399.4L609.4 401L610.5 401.9L611.6 402.7L613.5 403.6L614.5 404L615.6 405.8L615.7 405.9L616.8 404.4L616.9 404.4"/>
<path stroke="#808000" d="M468.3 404.4L535.5 404.4L551 404.6L557.6 404.8L565.1 405.2L586.4 406.9L588.3 406.9L592 406.7L593.4 406.7L594.3 406.8L595.1 407L595.7 407.3L596.4 407.7L597.7 408.9L599.7 411.2L600.4 411.8L601.1 412.3L601.8 412.5L602.5 412.4L603.2 412.1L604.8 411.3L606 410.4L609.4 407.4L610.5 406.6L611.5 406L613.5 405.1L614.5 404.7L615.6 404.5L616.9 404.4"/>
<path stroke="#ff0000" stroke-dasharray="2.7 2.7" d="M468.3 404.4L516 404.5L532.4 404.8L539.2 405L544.2 405.4L550.5 406.1L555 407L558.3 407.8L561.1 408.8L564.3 410.4L565.8 411.3L566.9 412L568.3 413.1L569.7 414.4L574.1 418.8L575.7 420.5L579.5 425.1L583.3 429L584.2 429.7L584.9 430.2L586.2 430.8L587.3 431L588.1 430.8L589 430.3L590.3 429.3L591 428.6L592.1 426.9L597.5 417.6L600.1 413.5L602.1 410.8L603.6 409L605.6 406.9L606.2 406.3L606.9 405.8L608.1 405.2L609.1 404.8L610.4 404.5L611.5 404.4L633.8 404.4"/>
<path stroke="#0000ff" stroke-dasharray="2.7 2.7" d="M468.3 404.4L512.4 404.4L533.1 404.1L539.2 403.9L547.4 403.5L553 403L559.5 402.3L565.2 401.6L573.3 400.2L575.9 399.6L578.5 398.8L580.6 397.8L582.3 396.8L583.7 395.6L586.7 392.8L588.1 391.6L589.4 390.9L590 390.7L590.5 390.6L591.3 390.7L592.2 391.1L593.3 391.8L594.9 392.9L596.3 394.2L601.1 398.8L603.6 400.8L604.6 401.4L605.9 402.1L608.4 403.1L612.5 404.1L614.4 404.4L633.8 404.4"/>
<path stroke="#808000" stroke-dasharray="2.7 2.7" d="M468.3 404.4L533.8 404.4L553.6 404.6L563.1 404.9L583.8 405.9L593 405.7L595.2 406L598.3 407L599.7 407.2L600.9 407.1L602.1 406.9L605.9 405.5L607.4 405L608.9 404.7L610.4 404.6L613.9 404.4L633.8 404.4"/>
<path stroke="#000" stroke-dasharray="2.7 2.7" d="M468.3 331.4L490.7 331.4L498.8 331.6L503.8 331.8L512 332.3L520.2 332.9L522.4 333.3L528.2 334.3L535.8 335.5L542.1 336.7L545.5 337.6L548.7 338.5L551.9 339.7L555 340.9L557.6 342.1L559.9 343.4L562.1 344.8L564 346.2L565.9 347.8L567.9 349.7L570 352L571.5 353.7L573.6 356.8L575.8 360.6L576.8 362.7L579.3 368.4L583.9 378.1L586.5 383.2L589.2 388.1L591.2 391.1L593.6 394.2L596.5 397.3L598.9 399.4L601.3 401.2L603.3 402.3L605.9 403.3L608.3 404.1L609.4 404.4L633.8 404.4"/>
<path stroke="#008000" stroke-dasharray="2.7 2.7" d="M468.3 404.4L519.6 404.4L533 404.5L545.9 404.7L553.1 405L558.6 405.3L564.3 405.8L576.1 407.2L581.5 407.6L583.5 408L585.6 408.5L587 409L588.2 409.7L591 411.7L592.1 412.4L593.1 412.8L594.1 412.9L594.7 412.8L595.6 412.6L597.3 411.7L598.6 410.8L602.4 407.7L604.2 406.5L606.1 405.6L608.2 405L610.4 404.6L613.6 404.4L633.8 404.4"/>
<path stroke="#800080" stroke-dasharray="2.7 2.7" d="M468.3 404.4L530.7 404.4L545.9 404.2L553.1 404L562.9 403.6L581.6 402.1L583.6 402L586.9 402.1L588.8 402L589.9 401.8L590.9 401.6L591.9 401.2L595 399.9L596 399.6L596.8 399.5L598.2 399.7L599.6 400.2L601 400.8L603.9 402.3L606 403.2L607.8 403.8L609.6 404.1L612 404.3L613.9 404.4L633.8 404.4"/>
</g>
<g fill="none" stroke="#000" stroke-width="0.44">
<rect x="108.30" y="54.10" width="165.50" height="124.10"/>
<path d="M108.30 178.20h1.30M273.80 178.20h-1.30M108.30 170.90h2.60M273.80 170.90h-2.60M108.30 163.60h1.30M273.80 163.60h-1.30M108.30 156.30h1.30M273.80 156.30h-1.30M108.30 149.00h1.30M273.80 149.00h-1.30M108.30 141.70h1.30M273.80 141.70h-1.30M108.30 134.40h2.60M273.80 134.40h-2.60M108.30 127.10h1.30M273.80 127.10h-1.30M108.30 119.80h1.30M273.80 119.80h-1.30M108.30 112.50h1.30M273.80 112.50h-1.30M108.30 105.20h1.30M273.80 105.20h-1.30M108.30 97.90h2.60M273.80 97.90h-2.60M108.30 90.60h1.30M273.80 90.60h-1.30M108.30 83.30h1.30M273.80 83.30h-1.30M108.30 76.00h1.30M273.80 76.00h-1.30M108.30 68.70h1.30M273.80 68.70h-1.30M108.30 61.40h2.60M273.80 61.40h-2.60M108.30 54.10h1.30M273.80 54.10h-1.30M108.30 178.20v-3.20M108.30 54.10v3.20M118.26 178.20v-1.50M118.26 54.10v1.50M124.09 178.20v-1.50M124.09 54.10v1.50M128.23 178.20v-1.50M128.23 54.10v1.50M131.44 178.20v-1.50M131.44 54.10v1.50M134.06 178.20v-1.50M134.06 54.10v1.50M136.27 178.20v-1.50M136.27 54.10v1.50M138.19 178.20v-1.50M138.19 54.10v1.50M139.89 178.20v-1.50M139.89 54.10v1.50M141.40 178.20v-3.20M141.40 54.10v3.20M151.36 178.20v-1.50M151.36 54.10v1.50M157.19 178.20v-1.50M157.19 54.10v1.50M161.33 178.20v-1.50M161.33 54.10v1.50M164.54 178.20v-1.50M164.54 54.10v1.50M167.16 178.20v-1.50M167.16 54.10v1.50M169.37 178.20v-1.50M169.37 54.10v1.50M171.29 178.20v-1.50M171.29 54.10v1.50M172.99 178.20v-1.50M172.99 54.10v1.50M174.50 178.20v-3.20M174.50 54.10v3.20M184.46 178.20v-1.50M184.46 54.10v1.50M190.29 178.20v-1.50M190.29 54.10v1.50M194.43 178.20v-1.50M194.43 54.10v1.50M197.64 178.20v-1.50M197.64 54.10v1.50M200.26 178.20v-1.50M200.26 54.10v1.50M202.47 178.20v-1.50M202.47 54.10v1.50M204.39 178.20v-1.50M204.39 54.10v1.50M206.09 178.20v-1.50M206.09 54.10v1.50M207.60 178.20v-3.20M207.60 54.10v3.20M217.56 178.20v-1.50M217.56 54.10v1.50M223.39 178.20v-1.50M223.39 54.10v1.50M227.53 178.20v-1.50M227.53 54.10v1.50M230.74 178.20v-1.50M230.74 54.10v1.50M233.36 178.20v-1.50M233.36 54.10v1.50M235.57 178.20v-1.50M235.57 54.10v1.50M237.49 178.20v-1.50M237.49 54.10v1.50M239.19 178.20v-1.50M239.19 54.10v1.50M240.70 178.20v-3.20M240.70 54.10v3.20M250.66 178.20v-1.50M250.66 54.10v1.50M256.49 178.20v-1.50M256.49 54.10v1.50M260.63 178.20v-1.50M260.63 54.10v1.50M263.84 178.20v-1.50M263.84 54.10v1.50M266.46 178.20v-1.50M266.46 54.10v1.50M268.67 178.20v-1.50M268.67 54.10v1.50M270.59 178.20v-1.50M270.59 54.10v1.50M272.29 178.20v-1.50M272.29 54.10v1.50M273.80 178.20v-3.20M273.80 54.10v3.20"/>
<rect x="288.30" y="54.10" width="165.50" height="124.10"/>
<path d="M288.30 178.20h1.30M453.80 178.20h-1.30M288.30 170.90h2.60M453.80 170.90h-2.60M288.30 163.60h1.30M453.80 163.60h-1.30M288.30 156.30h1.30M453.80 156.30h-1.30M288.30 149.00h1.30M453.80 149.00h-1.30M288.30 141.70h1.30M453.80 141.70h-1.30M288.30 134.40h2.60M453.80 134.40h-2.60M288.30 127.10h1.30M453.80 127.10h-1.30M288.30 119.80h1.30M453.80 119.80h-1.30M288.30 112.50h1.30M453.80 112.50h-1.30M288.30 105.20h1.30M453.80 105.20h-1.30M288.30 97.90h2.60M453.80 97.90h-2.60M288.30 90.60h1.30M453.80 90.60h-1.30M288.30 83.30h1.30M453.80 83.30h-1.30M288.30 76.00h1.30M453.80 76.00h-1.30M288.30 68.70h1.30M453.80 68.70h-1.30M288.30 61.40h2.60M453.80 61.40h-2.60M288.30 54.10h1.30M453.80 54.10h-1.30M288.30 178.20v-3.20M288.30 54.10v3.20M298.26 178.20v-1.50M298.26 54.10v1.50M304.09 178.20v-1.50M304.09 54.10v1.50M308.23 178.20v-1.50M308.23 54.10v1.50M311.44 178.20v-1.50M311.44 54.10v1.50M314.06 178.20v-1.50M314.06 54.10v1.50M316.27 178.20v-1.50M316.27 54.10v1.50M318.19 178.20v-1.50M318.19 54.10v1.50M319.89 178.20v-1.50M319.89 54.10v1.50M321.40 178.20v-3.20M321.40 54.10v3.20M331.36 178.20v-1.50M331.36 54.10v1.50M337.19 178.20v-1.50M337.19 54.10v1.50M341.33 178.20v-1.50M341.33 54.10v1.50M344.54 178.20v-1.50M344.54 54.10v1.50M347.16 178.20v-1.50M347.16 54.10v1.50M349.37 178.20v-1.50M349.37 54.10v1.50M351.29 178.20v-1.50M351.29 54.10v1.50M352.99 178.20v-1.50M352.99 54.10v1.50M354.50 178.20v-3.20M354.50 54.10v3.20M364.46 178.20v-1.50M364.46 54.10v1.50M370.29 178.20v-1.50M370.29 54.10v1.50M374.43 178.20v-1.50M374.43 54.10v1.50M377.64 178.20v-1.50M377.64 54.10v1.50M380.26 178.20v-1.50M380.26 54.10v1.50M382.47 178.20v-1.50M382.47 54.10v1.50M384.39 178.20v-1.50M384.39 54.10v1.50M386.09 178.20v-1.50M386.09 54.10v1.50M387.60 178.20v-3.20M387.60 54.10v3.20M397.56 178.20v-1.50M397.56 54.10v1.50M403.39 178.20v-1.50M403.39 54.10v1.50M407.53 178.20v-1.50M407.53 54.10v1.50M410.74 178.20v-1.50M410.74 54.10v1.50M413.36 178.20v-1.50M413.36 54.10v1.50M415.57 178.20v-1.50M415.57 54.10v1.50M417.49 178.20v-1.50M417.49 54.10v1.50M419.19 178.20v-1.50M419.19 54.10v1.50M420.70 178.20v-3.20M420.70 54.10v3.20M430.66 178.20v-1.50M430.66 54.10v1.50M436.49 178.20v-1.50M436.49 54.10v1.50M440.63 178.20v-1.50M440.63 54.10v1.50M443.84 178.20v-1.50M443.84 54.10v1.50M446.46 178.20v-1.50M446.46 54.10v1.50M448.67 178.20v-1.50M448.67 54.10v1.50M450.59 178.20v-1.50M450.59 54.10v1.50M452.29 178.20v-1.50M452.29 54.10v1.50M453.80 178.20v-3.20M453.80 54.10v3.20"/>
<rect x="468.30" y="54.10" width="165.50" height="124.10"/>
<path d="M468.30 178.20h1.30M633.80 178.20h-1.30M468.30 170.90h2.60M633.80 170.90h-2.60M468.30 163.60h1.30M633.80 163.60h-1.30M468.30 156.30h1.30M633.80 156.30h-1.30M468.30 149.00h1.30M633.80 149.00h-1.30M468.30 141.70h1.30M633.80 141.70h-1.30M468.30 134.40h2.60M633.80 134.40h-2.60M468.30 127.10h1.30M633.80 127.10h-1.30M468.30 119.80h1.30M633.80 119.80h-1.30M468.30 112.50h1.30M633.80 112.50h-1.30M468.30 105.20h1.30M633.80 105.20h-1.30M468.30 97.90h2.60M633.80 97.90h-2.60M468.30 90.60h1.30M633.80 90.60h-1.30M468.30 83.30h1.30M633.80 83.30h-1.30M468.30 76.00h1.30M633.80 76.00h-1.30M468.30 68.70h1.30M633.80 68.70h-1.30M468.30 61.40h2.60M633.80 61.40h-2.60M468.30 54.10h1.30M633.80 54.10h-1.30M468.30 178.20v-3.20M468.30 54.10v3.20M478.26 178.20v-1.50M478.26 54.10v1.50M484.09 178.20v-1.50M484.09 54.10v1.50M488.23 178.20v-1.50M488.23 54.10v1.50M491.44 178.20v-1.50M491.44 54.10v1.50M494.06 178.20v-1.50M494.06 54.10v1.50M496.27 178.20v-1.50M496.27 54.10v1.50M498.19 178.20v-1.50M498.19 54.10v1.50M499.89 178.20v-1.50M499.89 54.10v1.50M501.40 178.20v-3.20M501.40 54.10v3.20M511.36 178.20v-1.50M511.36 54.10v1.50M517.19 178.20v-1.50M517.19 54.10v1.50M521.33 178.20v-1.50M521.33 54.10v1.50M524.54 178.20v-1.50M524.54 54.10v1.50M527.16 178.20v-1.50M527.16 54.10v1.50M529.37 178.20v-1.50M529.37 54.10v1.50M531.29 178.20v-1.50M531.29 54.10v1.50M532.99 178.20v-1.50M532.99 54.10v1.50M534.50 178.20v-3.20M534.50 54.10v3.20M544.46 178.20v-1.50M544.46 54.10v1.50M550.29 178.20v-1.50M550.29 54.10v1.50M554.43 178.20v-1.50M554.43 54.10v1.50M557.64 178.20v-1.50M557.64 54.10v1.50M560.26 178.20v-1.50M560.26 54.10v1.50M562.47 178.20v-1.50M562.47 54.10v1.50M564.39 178.20v-1.50M564.39 54.10v1.50M566.09 178.20v-1.50M566.09 54.10v1.50M567.60 178.20v-3.20M567.60 54.10v3.20M577.56 178.20v-1.50M577.56 54.10v1.50M583.39 178.20v-1.50M583.39 54.10v1.50M587.53 178.20v-1.50M587.53 54.10v1.50M590.74 178.20v-1.50M590.74 54.10v1.50M593.36 178.20v-1.50M593.36 54.10v1.50M595.57 178.20v-1.50M595.57 54.10v1.50M597.49 178.20v-1.50M597.49 54.10v1.50M599.19 178.20v-1.50M599.19 54.10v1.50M600.70 178.20v-3.20M600.70 54.10v3.20M610.66 178.20v-1.50M610.66 54.10v1.50M616.49 178.20v-1.50M616.49 54.10v1.50M620.63 178.20v-1.50M620.63 54.10v1.50M623.84 178.20v-1.50M623.84 54.10v1.50M626.46 178.20v-1.50M626.46 54.10v1.50M628.67 178.20v-1.50M628.67 54.10v1.50M630.59 178.20v-1.50M630.59 54.10v1.50M632.29 178.20v-1.50M632.29 54.10v1.50M633.80 178.20v-3.20M633.80 54.10v3.20"/>
<rect x="108.30" y="189.10" width="165.50" height="124.10"/>
<path d="M108.30 313.20h1.30M273.80 313.20h-1.30M108.30 305.90h2.60M273.80 305.90h-2.60M108.30 298.60h1.30M273.80 298.60h-1.30M108.30 291.30h1.30M273.80 291.30h-1.30M108.30 284.00h1.30M273.80 284.00h-1.30M108.30 276.70h1.30M273.80 276.70h-1.30M108.30 269.40h2.60M273.80 269.40h-2.60M108.30 262.10h1.30M273.80 262.10h-1.30M108.30 254.80h1.30M273.80 254.80h-1.30M108.30 247.50h1.30M273.80 247.50h-1.30M108.30 240.20h1.30M273.80 240.20h-1.30M108.30 232.90h2.60M273.80 232.90h-2.60M108.30 225.60h1.30M273.80 225.60h-1.30M108.30 218.30h1.30M273.80 218.30h-1.30M108.30 211.00h1.30M273.80 211.00h-1.30M108.30 203.70h1.30M273.80 203.70h-1.30M108.30 196.40h2.60M273.80 196.40h-2.60M108.30 189.10h1.30M273.80 189.10h-1.30M108.30 313.20v-3.20M108.30 189.10v3.20M118.26 313.20v-1.50M118.26 189.10v1.50M124.09 313.20v-1.50M124.09 189.10v1.50M128.23 313.20v-1.50M128.23 189.10v1.50M131.44 313.20v-1.50M131.44 189.10v1.50M134.06 313.20v-1.50M134.06 189.10v1.50M136.27 313.20v-1.50M136.27 189.10v1.50M138.19 313.20v-1.50M138.19 189.10v1.50M139.89 313.20v-1.50M139.89 189.10v1.50M141.40 313.20v-3.20M141.40 189.10v3.20M151.36 313.20v-1.50M151.36 189.10v1.50M157.19 313.20v-1.50M157.19 189.10v1.50M161.33 313.20v-1.50M161.33 189.10v1.50M164.54 313.20v-1.50M164.54 189.10v1.50M167.16 313.20v-1.50M167.16 189.10v1.50M169.37 313.20v-1.50M169.37 189.10v1.50M171.29 313.20v-1.50M171.29 189.10v1.50M172.99 313.20v-1.50M172.99 189.10v1.50M174.50 313.20v-3.20M174.50 189.10v3.20M184.46 313.20v-1.50M184.46 189.10v1.50M190.29 313.20v-1.50M190.29 189.10v1.50M194.43 313.20v-1.50M194.43 189.10v1.50M197.64 313.20v-1.50M197.64 189.10v1.50M200.26 313.20v-1.50M200.26 189.10v1.50M202.47 313.20v-1.50M202.47 189.10v1.50M204.39 313.20v-1.50M204.39 189.10v1.50M206.09 313.20v-1.50M206.09 189.10v1.50M207.60 313.20v-3.20M207.60 189.10v3.20M217.56 313.20v-1.50M217.56 189.10v1.50M223.39 313.20v-1.50M223.39 189.10v1.50M227.53 313.20v-1.50M227.53 189.10v1.50M230.74 313.20v-1.50M230.74 189.10v1.50M233.36 313.20v-1.50M233.36 189.10v1.50M235.57 313.20v-1.50M235.57 189.10v1.50M237.49 313.20v-1.50M237.49 189.10v1.50M239.19 313.20v-1.50M239.19 189.10v1.50M240.70 313.20v-3.20M240.70 189.10v3.20M250.66 313.20v-1.50M250.66 189.10v1.50M256.49 313.20v-1.50M256.49 189.10v1.50M260.63 313.20v-1.50M260.63 189.10v1.50M263.84 313.20v-1.50M263.84 189.10v1.50M266.46 313.20v-1.50M266.46 189.10v1.50M268.67 313.20v-1.50M268.67 189.10v1.50M270.59 313.20v-1.50M270.59 189.10v1.50M272.29 313.20v-1.50M272.29 189.10v1.50M273.80 313.20v-3.20M273.80 189.10v3.20"/>
<rect x="288.30" y="189.10" width="165.50" height="124.10"/>
<path d="M288.30 313.20h1.30M453.80 313.20h-1.30M288.30 305.90h2.60M453.80 305.90h-2.60M288.30 298.60h1.30M453.80 298.60h-1.30M288.30 291.30h1.30M453.80 291.30h-1.30M288.30 284.00h1.30M453.80 284.00h-1.30M288.30 276.70h1.30M453.80 276.70h-1.30M288.30 269.40h2.60M453.80 269.40h-2.60M288.30 262.10h1.30M453.80 262.10h-1.30M288.30 254.80h1.30M453.80 254.80h-1.30M288.30 247.50h1.30M453.80 247.50h-1.30M288.30 240.20h1.30M453.80 240.20h-1.30M288.30 232.90h2.60M453.80 232.90h-2.60M288.30 225.60h1.30M453.80 225.60h-1.30M288.30 218.30h1.30M453.80 218.30h-1.30M288.30 211.00h1.30M453.80 211.00h-1.30M288.30 203.70h1.30M453.80 203.70h-1.30M288.30 196.40h2.60M453.80 196.40h-2.60M288.30 189.10h1.30M453.80 189.10h-1.30M288.30 313.20v-3.20M288.30 189.10v3.20M298.26 313.20v-1.50M298.26 189.10v1.50M304.09 313.20v-1.50M304.09 189.10v1.50M308.23 313.20v-1.50M308.23 189.10v1.50M311.44 313.20v-1.50M311.44 189.10v1.50M314.06 313.20v-1.50M314.06 189.10v1.50M316.27 313.20v-1.50M316.27 189.10v1.50M318.19 313.20v-1.50M318.19 189.10v1.50M319.89 313.20v-1.50M319.89 189.10v1.50M321.40 313.20v-3.20M321.40 189.10v3.20M331.36 313.20v-1.50M331.36 189.10v1.50M337.19 313.20v-1.50M337.19 189.10v1.50M341.33 313.20v-1.50M341.33 189.10v1.50M344.54 313.20v-1.50M344.54 189.10v1.50M347.16 313.20v-1.50M347.16 189.10v1.50M349.37 313.20v-1.50M349.37 189.10v1.50M351.29 313.20v-1.50M351.29 189.10v1.50M352.99 313.20v-1.50M352.99 189.10v1.50M354.50 313.20v-3.20M354.50 189.10v3.20M364.46 313.20v-1.50M364.46 189.10v1.50M370.29 313.20v-1.50M370.29 189.10v1.50M374.43 313.20v-1.50M374.43 189.10v1.50M377.64 313.20v-1.50M377.64 189.10v1.50M380.26 313.20v-1.50M380.26 189.10v1.50M382.47 313.20v-1.50M382.47 189.10v1.50M384.39 313.20v-1.50M384.39 189.10v1.50M386.09 313.20v-1.50M386.09 189.10v1.50M387.60 313.20v-3.20M387.60 189.10v3.20M397.56 313.20v-1.50M397.56 189.10v1.50M403.39 313.20v-1.50M403.39 189.10v1.50M407.53 313.20v-1.50M407.53 189.10v1.50M410.74 313.20v-1.50M410.74 189.10v1.50M413.36 313.20v-1.50M413.36 189.10v1.50M415.57 313.20v-1.50M415.57 189.10v1.50M417.49 313.20v-1.50M417.49 189.10v1.50M419.19 313.20v-1.50M419.19 189.10v1.50M420.70 313.20v-3.20M420.70 189.10v3.20M430.66 313.20v-1.50M430.66 189.10v1.50M436.49 313.20v-1.50M436.49 189.10v1.50M440.63 313.20v-1.50M440.63 189.10v1.50M443.84 313.20v-1.50M443.84 189.10v1.50M446.46 313.20v-1.50M446.46 189.10v1.50M448.67 313.20v-1.50M448.67 189.10v1.50M450.59 313.20v-1.50M450.59 189.10v1.50M452.29 313.20v-1.50M452.29 189.10v1.50M453.80 313.20v-3.20M453.80 189.10v3.20"/>
<rect x="468.30" y="189.10" width="165.50" height="124.10"/>
<path d="M468.30 313.20h1.30M633.80 313.20h-1.30M468.30 305.90h2.60M633.80 305.90h-2.60M468.30 298.60h1.30M633.80 298.60h-1.30M468.30 291.30h1.30M633.80 291.30h-1.30M468.30 284.00h1.30M633.80 284.00h-1.30M468.30 276.70h1.30M633.80 276.70h-1.30M468.30 269.40h2.60M633.80 269.40h-2.60M468.30 262.10h1.30M633.80 262.10h-1.30M468.30 254.80h1.30M633.80 254.80h-1.30M468.30 247.50h1.30M633.80 247.50h-1.30M468.30 240.20h1.30M633.80 240.20h-1.30M468.30 232.90h2.60M633.80 232.90h-2.60M468.30 225.60h1.30M633.80 225.60h-1.30M468.30 218.30h1.30M633.80 218.30h-1.30M468.30 211.00h1.30M633.80 211.00h-1.30M468.30 203.70h1.30M633.80 203.70h-1.30M468.30 196.40h2.60M633.80 196.40h-2.60M468.30 189.10h1.30M633.80 189.10h-1.30M468.30 313.20v-3.20M468.30 189.10v3.20M478.26 313.20v-1.50M478.26 189.10v1.50M484.09 313.20v-1.50M484.09 189.10v1.50M488.23 313.20v-1.50M488.23 189.10v1.50M491.44 313.20v-1.50M491.44 189.10v1.50M494.06 313.20v-1.50M494.06 189.10v1.50M496.27 313.20v-1.50M496.27 189.10v1.50M498.19 313.20v-1.50M498.19 189.10v1.50M499.89 313.20v-1.50M499.89 189.10v1.50M501.40 313.20v-3.20M501.40 189.10v3.20M511.36 313.20v-1.50M511.36 189.10v1.50M517.19 313.20v-1.50M517.19 189.10v1.50M521.33 313.20v-1.50M521.33 189.10v1.50M524.54 313.20v-1.50M524.54 189.10v1.50M527.16 313.20v-1.50M527.16 189.10v1.50M529.37 313.20v-1.50M529.37 189.10v1.50M531.29 313.20v-1.50M531.29 189.10v1.50M532.99 313.20v-1.50M532.99 189.10v1.50M534.50 313.20v-3.20M534.50 189.10v3.20M544.46 313.20v-1.50M544.46 189.10v1.50M550.29 313.20v-1.50M550.29 189.10v1.50M554.43 313.20v-1.50M554.43 189.10v1.50M557.64 313.20v-1.50M557.64 189.10v1.50M560.26 313.20v-1.50M560.26 189.10v1.50M562.47 313.20v-1.50M562.47 189.10v1.50M564.39 313.20v-1.50M564.39 189.10v1.50M566.09 313.20v-1.50M566.09 189.10v1.50M567.60 313.20v-3.20M567.60 189.10v3.20M577.56 313.20v-1.50M577.56 189.10v1.50M583.39 313.20v-1.50M583.39 189.10v1.50M587.53 313.20v-1.50M587.53 189.10v1.50M590.74 313.20v-1.50M590.74 189.10v1.50M593.36 313.20v-1.50M593.36 189.10v1.50M595.57 313.20v-1.50M595.57 189.10v1.50M597.49 313.20v-1.50M597.49 189.10v1.50M599.19 313.20v-1.50M599.19 189.10v1.50M600.70 313.20v-3.20M600.70 189.10v3.20M610.66 313.20v-1.50M610.66 189.10v1.50M616.49 313.20v-1.50M616.49 189.10v1.50M620.63 313.20v-1.50M620.63 189.10v1.50M623.84 313.20v-1.50M623.84 189.10v1.50M626.46 313.20v-1.50M626.46 189.10v1.50M628.67 313.20v-1.50M628.67 189.10v1.50M630.59 313.20v-1.50M630.59 189.10v1.50M632.29 313.20v-1.50M632.29 189.10v1.50M633.80 313.20v-3.20M633.80 189.10v3.20"/>
<rect x="108.30" y="324.10" width="165.50" height="124.10"/>
<path d="M108.30 448.20h1.30M273.80 448.20h-1.30M108.30 440.90h2.60M273.80 440.90h-2.60M108.30 433.60h1.30M273.80 433.60h-1.30M108.30 426.30h1.30M273.80 426.30h-1.30M108.30 419.00h1.30M273.80 419.00h-1.30M108.30 411.70h1.30M273.80 411.70h-1.30M108.30 404.40h2.60M273.80 404.40h-2.60M108.30 397.10h1.30M273.80 397.10h-1.30M108.30 389.80h1.30M273.80 389.80h-1.30M108.30 382.50h1.30M273.80 382.50h-1.30M108.30 375.20h1.30M273.80 375.20h-1.30M108.30 367.90h2.60M273.80 367.90h-2.60M108.30 360.60h1.30M273.80 360.60h-1.30M108.30 353.30h1.30M273.80 353.30h-1.30M108.30 346.00h1.30M273.80 346.00h-1.30M108.30 338.70h1.30M273.80 338.70h-1.30M108.30 331.40h2.60M273.80 331.40h-2.60M108.30 324.10h1.30M273.80 324.10h-1.30M108.30 448.20v-3.20M108.30 324.10v3.20M118.26 448.20v-1.50M118.26 324.10v1.50M124.09 448.20v-1.50M124.09 324.10v1.50M128.23 448.20v-1.50M128.23 324.10v1.50M131.44 448.20v-1.50M131.44 324.10v1.50M134.06 448.20v-1.50M134.06 324.10v1.50M136.27 448.20v-1.50M136.27 324.10v1.50M138.19 448.20v-1.50M138.19 324.10v1.50M139.89 448.20v-1.50M139.89 324.10v1.50M141.40 448.20v-3.20M141.40 324.10v3.20M151.36 448.20v-1.50M151.36 324.10v1.50M157.19 448.20v-1.50M157.19 324.10v1.50M161.33 448.20v-1.50M161.33 324.10v1.50M164.54 448.20v-1.50M164.54 324.10v1.50M167.16 448.20v-1.50M167.16 324.10v1.50M169.37 448.20v-1.50M169.37 324.10v1.50M171.29 448.20v-1.50M171.29 324.10v1.50M172.99 448.20v-1.50M172.99 324.10v1.50M174.50 448.20v-3.20M174.50 324.10v3.20M184.46 448.20v-1.50M184.46 324.10v1.50M190.29 448.20v-1.50M190.29 324.10v1.50M194.43 448.20v-1.50M194.43 324.10v1.50M197.64 448.20v-1.50M197.64 324.10v1.50M200.26 448.20v-1.50M200.26 324.10v1.50M202.47 448.20v-1.50M202.47 324.10v1.50M204.39 448.20v-1.50M204.39 324.10v1.50M206.09 448.20v-1.50M206.09 324.10v1.50M207.60 448.20v-3.20M207.60 324.10v3.20M217.56 448.20v-1.50M217.56 324.10v1.50M223.39 448.20v-1.50M223.39 324.10v1.50M227.53 448.20v-1.50M227.53 324.10v1.50M230.74 448.20v-1.50M230.74 324.10v1.50M233.36 448.20v-1.50M233.36 324.10v1.50M235.57 448.20v-1.50M235.57 324.10v1.50M237.49 448.20v-1.50M237.49 324.10v1.50M239.19 448.20v-1.50M239.19 324.10v1.50M240.70 448.20v-3.20M240.70 324.10v3.20M250.66 448.20v-1.50M250.66 324.10v1.50M256.49 448.20v-1.50M256.49 324.10v1.50M260.63 448.20v-1.50M260.63 324.10v1.50M263.84 448.20v-1.50M263.84 324.10v1.50M266.46 448.20v-1.50M266.46 324.10v1.50M268.67 448.20v-1.50M268.67 324.10v1.50M270.59 448.20v-1.50M270.59 324.10v1.50M272.29 448.20v-1.50M272.29 324.10v1.50M273.80 448.20v-3.20M273.80 324.10v3.20"/>
<rect x="288.30" y="324.10" width="165.50" height="124.10"/>
<path d="M288.30 448.20h1.30M453.80 448.20h-1.30M288.30 440.90h2.60M453.80 440.90h-2.60M288.30 433.60h1.30M453.80 433.60h-1.30M288.30 426.30h1.30M453.80 426.30h-1.30M288.30 419.00h1.30M453.80 419.00h-1.30M288.30 411.70h1.30M453.80 411.70h-1.30M288.30 404.40h2.60M453.80 404.40h-2.60M288.30 397.10h1.30M453.80 397.10h-1.30M288.30 389.80h1.30M453.80 389.80h-1.30M288.30 382.50h1.30M453.80 382.50h-1.30M288.30 375.20h1.30M453.80 375.20h-1.30M288.30 367.90h2.60M453.80 367.90h-2.60M288.30 360.60h1.30M453.80 360.60h-1.30M288.30 353.30h1.30M453.80 353.30h-1.30M288.30 346.00h1.30M453.80 346.00h-1.30M288.30 338.70h1.30M453.80 338.70h-1.30M288.30 331.40h2.60M453.80 331.40h-2.60M288.30 324.10h1.30M453.80 324.10h-1.30M288.30 448.20v-3.20M288.30 324.10v3.20M298.26 448.20v-1.50M298.26 324.10v1.50M304.09 448.20v-1.50M304.09 324.10v1.50M308.23 448.20v-1.50M308.23 324.10v1.50M311.44 448.20v-1.50M311.44 324.10v1.50M314.06 448.20v-1.50M314.06 324.10v1.50M316.27 448.20v-1.50M316.27 324.10v1.50M318.19 448.20v-1.50M318.19 324.10v1.50M319.89 448.20v-1.50M319.89 324.10v1.50M321.40 448.20v-3.20M321.40 324.10v3.20M331.36 448.20v-1.50M331.36 324.10v1.50M337.19 448.20v-1.50M337.19 324.10v1.50M341.33 448.20v-1.50M341.33 324.10v1.50M344.54 448.20v-1.50M344.54 324.10v1.50M347.16 448.20v-1.50M347.16 324.10v1.50M349.37 448.20v-1.50M349.37 324.10v1.50M351.29 448.20v-1.50M351.29 324.10v1.50M352.99 448.20v-1.50M352.99 324.10v1.50M354.50 448.20v-3.20M354.50 324.10v3.20M364.46 448.20v-1.50M364.46 324.10v1.50M370.29 448.20v-1.50M370.29 324.10v1.50M374.43 448.20v-1.50M374.43 324.10v1.50M377.64 448.20v-1.50M377.64 324.10v1.50M380.26 448.20v-1.50M380.26 324.10v1.50M382.47 448.20v-1.50M382.47 324.10v1.50M384.39 448.20v-1.50M384.39 324.10v1.50M386.09 448.20v-1.50M386.09 324.10v1.50M387.60 448.20v-3.20M387.60 324.10v3.20M397.56 448.20v-1.50M397.56 324.10v1.50M403.39 448.20v-1.50M403.39 324.10v1.50M407.53 448.20v-1.50M407.53 324.10v1.50M410.74 448.20v-1.50M410.74 324.10v1.50M413.36 448.20v-1.50M413.36 324.10v1.50M415.57 448.20v-1.50M415.57 324.10v1.50M417.49 448.20v-1.50M417.49 324.10v1.50M419.19 448.20v-1.50M419.19 324.10v1.50M420.70 448.20v-3.20M420.70 324.10v3.20M430.66 448.20v-1.50M430.66 324.10v1.50M436.49 448.20v-1.50M436.49 324.10v1.50M440.63 448.20v-1.50M440.63 324.10v1.50M443.84 448.20v-1.50M443.84 324.10v1.50M446.46 448.20v-1.50M446.46 324.10v1.50M448.67 448.20v-1.50M448.67 324.10v1.50M450.59 448.20v-1.50M450.59 324.10v1.50M452.29 448.20v-1.50M452.29 324.10v1.50M453.80 448.20v-3.20M453.80 324.10v3.20"/>
<rect x="468.30" y="324.10" width="165.50" height="124.10"/>
<path d="M468.30 448.20h1.30M633.80 448.20h-1.30M468.30 440.90h2.60M633.80 440.90h-2.60M468.30 433.60h1.30M633.80 433.60h-1.30M468.30 426.30h1.30M633.80 426.30h-1.30M468.30 419.00h1.30M633.80 419.00h-1.30M468.30 411.70h1.30M633.80 411.70h-1.30M468.30 404.40h2.60M633.80 404.40h-2.60M468.30 397.10h1.30M633.80 397.10h-1.30M468.30 389.80h1.30M633.80 389.80h-1.30M468.30 382.50h1.30M633.80 382.50h-1.30M468.30 375.20h1.30M633.80 375.20h-1.30M468.30 367.90h2.60M633.80 367.90h-2.60M468.30 360.60h1.30M633.80 360.60h-1.30M468.30 353.30h1.30M633.80 353.30h-1.30M468.30 346.00h1.30M633.80 346.00h-1.30M468.30 338.70h1.30M633.80 338.70h-1.30M468.30 331.40h2.60M633.80 331.40h-2.60M468.30 324.10h1.30M633.80 324.10h-1.30M468.30 448.20v-3.20M468.30 324.10v3.20M478.26 448.20v-1.50M478.26 324.10v1.50M484.09 448.20v-1.50M484.09 324.10v1.50M488.23 448.20v-1.50M488.23 324.10v1.50M491.44 448.20v-1.50M491.44 324.10v1.50M494.06 448.20v-1.50M494.06 324.10v1.50M496.27 448.20v-1.50M496.27 324.10v1.50M498.19 448.20v-1.50M498.19 324.10v1.50M499.89 448.20v-1.50M499.89 324.10v1.50M501.40 448.20v-3.20M501.40 324.10v3.20M511.36 448.20v-1.50M511.36 324.10v1.50M517.19 448.20v-1.50M517.19 324.10v1.50M521.33 448.20v-1.50M521.33 324.10v1.50M524.54 448.20v-1.50M524.54 324.10v1.50M527.16 448.20v-1.50M527.16 324.10v1.50M529.37 448.20v-1.50M529.37 324.10v1.50M531.29 448.20v-1.50M531.29 324.10v1.50M532.99 448.20v-1.50M532.99 324.10v1.50M534.50 448.20v-3.20M534.50 324.10v3.20M544.46 448.20v-1.50M544.46 324.10v1.50M550.29 448.20v-1.50M550.29 324.10v1.50M554.43 448.20v-1.50M554.43 324.10v1.50M557.64 448.20v-1.50M557.64 324.10v1.50M560.26 448.20v-1.50M560.26 324.10v1.50M562.47 448.20v-1.50M562.47 324.10v1.50M564.39 448.20v-1.50M564.39 324.10v1.50M566.09 448.20v-1.50M566.09 324.10v1.50M567.60 448.20v-3.20M567.60 324.10v3.20M577.56 448.20v-1.50M577.56 324.10v1.50M583.39 448.20v-1.50M583.39 324.10v1.50M587.53 448.20v-1.50M587.53 324.10v1.50M590.74 448.20v-1.50M590.74 324.10v1.50M593.36 448.20v-1.50M593.36 324.10v1.50M595.57 448.20v-1.50M595.57 324.10v1.50M597.49 448.20v-1.50M597.49 324.10v1.50M599.19 448.20v-1.50M599.19 324.10v1.50M600.70 448.20v-3.20M600.70 324.10v3.20M610.66 448.20v-1.50M610.66 324.10v1.50M616.49 448.20v-1.50M616.49 324.10v1.50M620.63 448.20v-1.50M620.63 324.10v1.50M623.84 448.20v-1.50M623.84 324.10v1.50M626.46 448.20v-1.50M626.46 324.10v1.50M628.67 448.20v-1.50M628.67 324.10v1.50M630.59 448.20v-1.50M630.59 324.10v1.50M632.29 448.20v-1.50M632.29 324.10v1.50M633.80 448.20v-3.20M633.80 324.10v3.20"/>
</g>
<g font-family="'Liberation Serif', serif" fill="#000" stroke="#000" stroke-width="0.15">
<text x="105.8" y="65.90" font-size="15.6" text-anchor="end">1.0</text>
<text x="105.8" y="102.40" font-size="15.6" text-anchor="end">0.5</text>
<text x="105.8" y="138.90" font-size="15.6" text-anchor="end">0.0</text>
<text x="105.8" y="175.40" font-size="15.6" text-anchor="end">-0.5</text>
<text x="105.8" y="200.90" font-size="15.6" text-anchor="end">1.0</text>
<text x="105.8" y="237.40" font-size="15.6" text-anchor="end">0.5</text>
<text x="105.8" y="273.90" font-size="15.6" text-anchor="end">0.0</text>
<text x="105.8" y="310.40" font-size="15.6" text-anchor="end">-0.5</text>
<text x="105.8" y="335.90" font-size="15.6" text-anchor="end">1.0</text>
<text x="105.8" y="372.40" font-size="15.6" text-anchor="end">0.5</text>
<text x="105.8" y="408.90" font-size="15.6" text-anchor="end">0.0</text>
<text x="105.8" y="445.40" font-size="15.6" text-anchor="end">-0.5</text>
<text x="107.80" y="465" font-size="14.5" text-anchor="middle">10<tspan font-size="8" dy="-6.5">-1</tspan></text>
<text x="140.90" y="465" font-size="14.5" text-anchor="middle">10<tspan font-size="8" dy="-6.5">0</tspan></text>
<text x="174.00" y="465" font-size="14.5" text-anchor="middle">10<tspan font-size="8" dy="-6.5">1</tspan></text>
<text x="207.10" y="465" font-size="14.5" text-anchor="middle">10<tspan font-size="8" dy="-6.5">2</tspan></text>
<text x="240.20" y="465" font-size="14.5" text-anchor="middle">10<tspan font-size="8" dy="-6.5">3</tspan></text>
<text x="287.80" y="465" font-size="14.5" text-anchor="middle">10<tspan font-size="8" dy="-6.5">-1</tspan></text>
<text x="320.90" y="465" font-size="14.5" text-anchor="middle">10<tspan font-size="8" dy="-6.5">0</tspan></text>
<text x="354.00" y="465" font-size="14.5" text-anchor="middle">10<tspan font-size="8" dy="-6.5">1</tspan></text>
<text x="387.10" y="465" font-size="14.5" text-anchor="middle">10<tspan font-size="8" dy="-6.5">2</tspan></text>
<text x="420.20" y="465" font-size="14.5" text-anchor="middle">10<tspan font-size="8" dy="-6.5">3</tspan></text>
<text x="467.80" y="465" font-size="14.5" text-anchor="middle">10<tspan font-size="8" dy="-6.5">-1</tspan></text>
<text x="500.90" y="465" font-size="14.5" text-anchor="middle">10<tspan font-size="8" dy="-6.5">0</tspan></text>
<text x="534.00" y="465" font-size="14.5" text-anchor="middle">10<tspan font-size="8" dy="-6.5">1</tspan></text>
<text x="567.10" y="465" font-size="14.5" text-anchor="middle">10<tspan font-size="8" dy="-6.5">2</tspan></text>
<text x="600.20" y="465" font-size="14.5" text-anchor="middle">10<tspan font-size="8" dy="-6.5">3</tspan></text>
<text x="633.30" y="465" font-size="14.5" text-anchor="middle">10<tspan font-size="8" dy="-6.5">4</tspan></text>
<text x="221.20" y="76.70" font-size="17.3">z bin 1</text>
<text x="401.20" y="76.70" font-size="17.3">z bin 2</text>
<text x="581.20" y="76.70" font-size="17.3">z bin 3</text>
<text x="221.20" y="212.10" font-size="17.3">z bin 4</text>
<text x="401.20" y="212.10" font-size="17.3">z bin 5</text>
<text x="581.20" y="212.10" font-size="17.3">z bin 6</text>
<text x="221.20" y="347.10" font-size="17.3">z bin 7</text>
<text x="401.20" y="347.10" font-size="17.3">z bin 8</text>
<text x="579.70" y="347.40" font-size="17.3">z bin 9</text>
<text x="371.5" y="509.7" font-size="23.2" text-anchor="middle">s [Mpc/h]</text>
</g>
</svg>
</body></html>
